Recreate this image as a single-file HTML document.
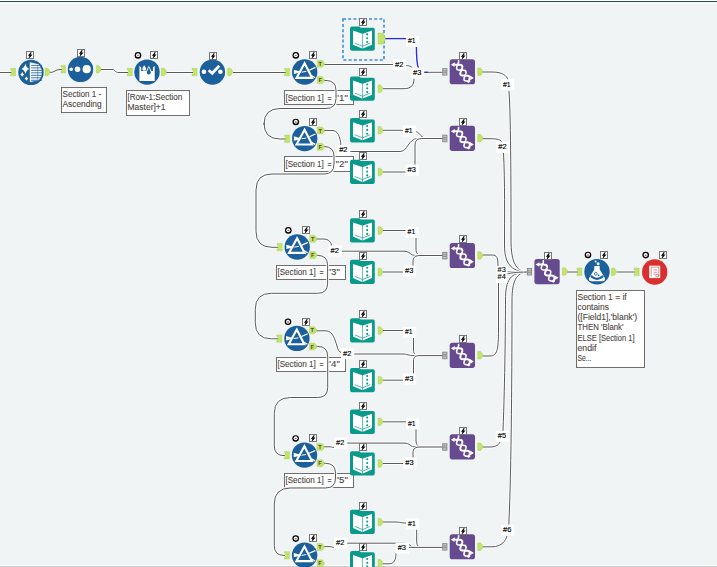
<!DOCTYPE html>
<html><head><meta charset="utf-8"><style>
html,body{margin:0;padding:0;background:#f0f4f5;overflow:hidden;}
svg{display:block;font-family:"Liberation Sans",sans-serif;}
</style></head><body>
<svg width="717" height="567" viewBox="0 0 717 567">
<rect x="0" y="0" width="717" height="567" fill="#f0f4f5"/>
<rect x="0" y="0" width="717" height="1" fill="#fbfcfc"/>
<rect x="0" y="1" width="717" height="1" fill="#2f4a46"/>
<rect x="0" y="2" width="717" height="1" fill="#fafcfc"/>
<rect x="0" y="565" width="717" height="1" fill="#fcfdfd"/>
<rect x="0" y="566" width="717" height="1" fill="#cbcdcd"/>
<path d="M0,72.5 H11.5" fill="none" stroke="#fff" stroke-width="3.0" stroke-opacity="0.85"/>
<path d="M0,72.5 H11.5" fill="none" stroke="#5a5a5a" stroke-width="1.0"/>
<path d="M50,72.5 C55,72.5 55,69.5 60,69.5 H62" fill="none" stroke="#fff" stroke-width="3.0" stroke-opacity="0.85"/>
<path d="M50,72.5 C55,72.5 55,69.5 60,69.5 H62" fill="none" stroke="#5a5a5a" stroke-width="1.0"/>
<path d="M100.8,69.5 H112 C116,69.5 114,72.5 119,72.5 H128" fill="none" stroke="#fff" stroke-width="3.0" stroke-opacity="0.85"/>
<path d="M100.8,69.5 H112 C116,69.5 114,72.5 119,72.5 H128" fill="none" stroke="#5a5a5a" stroke-width="1.0"/>
<path d="M166,72.5 H193" fill="none" stroke="#fff" stroke-width="3.0" stroke-opacity="0.85"/>
<path d="M166,72.5 H193" fill="none" stroke="#5a5a5a" stroke-width="1.0"/>
<path d="M233,72.5 H286" fill="none" stroke="#fff" stroke-width="3.0" stroke-opacity="0.85"/>
<path d="M233,72.5 H286" fill="none" stroke="#5a5a5a" stroke-width="1.0"/>
<path d="M384,38.6 H408" fill="none" stroke="#fff" stroke-width="3.4" stroke-opacity="0.85"/>
<path d="M384,38.6 H408" fill="none" stroke="#2b2bd8" stroke-width="1.4"/>
<path d="M416.4,46 C416.4,56 416.8,64 418.5,69" fill="none" stroke="#fff" stroke-width="3.4" stroke-opacity="0.85"/>
<path d="M416.4,46 C416.4,56 416.8,64 418.5,69" fill="none" stroke="#2b2bd8" stroke-width="1.4"/>
<path d="M324,64.5 H395" fill="none" stroke="#fff" stroke-width="3.0" stroke-opacity="0.85"/>
<path d="M324,64.5 H395" fill="none" stroke="#5a5a5a" stroke-width="1.0"/>
<path d="M405,65.5 C411,65.5 413,67 414,72" fill="none" stroke="#fff" stroke-width="3.0" stroke-opacity="0.85"/>
<path d="M405,65.5 C411,65.5 413,67 414,72" fill="none" stroke="#5a5a5a" stroke-width="1.0"/>
<path d="M383,88.7 H403 C411,88.7 414,86 414,78" fill="none" stroke="#fff" stroke-width="3.0" stroke-opacity="0.85"/>
<path d="M383,88.7 H403 C411,88.7 414,86 414,78" fill="none" stroke="#5a5a5a" stroke-width="1.0"/>
<path d="M423,72.3 H443" fill="none" stroke="#fff" stroke-width="3.0" stroke-opacity="0.85"/>
<path d="M423,72.3 H443" fill="none" stroke="#5a5a5a" stroke-width="1.0"/>
<path d="M423.5,72.3 H428" fill="none" stroke="#2b2bd8" stroke-width="1.2"/>
<path d="M383,130.3 H405" fill="none" stroke="#fff" stroke-width="3.0" stroke-opacity="0.85"/>
<path d="M383,130.3 H405" fill="none" stroke="#5a5a5a" stroke-width="1.0"/>
<path d="M416,131.5 C421,133 420,138.5 428,138.5 H443" fill="none" stroke="#fff" stroke-width="3.0" stroke-opacity="0.85"/>
<path d="M416,131.5 C421,133 420,138.5 428,138.5 H443" fill="none" stroke="#5a5a5a" stroke-width="1.0"/>
<path d="M324,130.5 H332 C338,130.5 340,136 341,146" fill="none" stroke="#fff" stroke-width="3.0" stroke-opacity="0.85"/>
<path d="M324,130.5 H332 C338,130.5 340,136 341,146" fill="none" stroke="#5a5a5a" stroke-width="1.0"/>
<path d="M347,151.5 H400 C408,151.5 408,138.5 418,138.5 H443" fill="none" stroke="#fff" stroke-width="3.0" stroke-opacity="0.85"/>
<path d="M347,151.5 H400 C408,151.5 408,138.5 418,138.5 H443" fill="none" stroke="#5a5a5a" stroke-width="1.0"/>
<path d="M383,172 H407" fill="none" stroke="#fff" stroke-width="3.0" stroke-opacity="0.85"/>
<path d="M383,172 H407" fill="none" stroke="#5a5a5a" stroke-width="1.0"/>
<path d="M415,165 V146 C415,140 417,138.5 424,138.5 H443" fill="none" stroke="#fff" stroke-width="3.0" stroke-opacity="0.85"/>
<path d="M415,165 V146 C415,140 417,138.5 424,138.5 H443" fill="none" stroke="#5a5a5a" stroke-width="1.0"/>
<path d="M383,230.5 H407" fill="none" stroke="#fff" stroke-width="3.0" stroke-opacity="0.85"/>
<path d="M383,230.5 H407" fill="none" stroke="#5a5a5a" stroke-width="1.0"/>
<path d="M416,238 V249 C416,254 418,255.5 424,255.5 H443" fill="none" stroke="#fff" stroke-width="3.0" stroke-opacity="0.85"/>
<path d="M416,238 V249 C416,254 418,255.5 424,255.5 H443" fill="none" stroke="#5a5a5a" stroke-width="1.0"/>
<path d="M316,239 H323 C329,239 331,242 332,247" fill="none" stroke="#fff" stroke-width="3.0" stroke-opacity="0.85"/>
<path d="M316,239 H323 C329,239 331,242 332,247" fill="none" stroke="#5a5a5a" stroke-width="1.0"/>
<path d="M341,251.2 H404 C410,251.2 410,255.5 416,255.5 H443" fill="none" stroke="#fff" stroke-width="3.0" stroke-opacity="0.85"/>
<path d="M341,251.2 H404 C410,251.2 410,255.5 416,255.5 H443" fill="none" stroke="#5a5a5a" stroke-width="1.0"/>
<path d="M383,272 H405" fill="none" stroke="#fff" stroke-width="3.0" stroke-opacity="0.85"/>
<path d="M383,272 H405" fill="none" stroke="#5a5a5a" stroke-width="1.0"/>
<path d="M413,266 V262 C413,257 415,255.5 421,255.5 H443" fill="none" stroke="#fff" stroke-width="3.0" stroke-opacity="0.85"/>
<path d="M413,266 V262 C413,257 415,255.5 421,255.5 H443" fill="none" stroke="#5a5a5a" stroke-width="1.0"/>
<path d="M383,330.5 H404" fill="none" stroke="#fff" stroke-width="3.0" stroke-opacity="0.85"/>
<path d="M383,330.5 H404" fill="none" stroke="#5a5a5a" stroke-width="1.0"/>
<path d="M413.5,338 V350 C413.5,354.5 415.5,355.6 421,355.6 H443" fill="none" stroke="#fff" stroke-width="3.0" stroke-opacity="0.85"/>
<path d="M413.5,338 V350 C413.5,354.5 415.5,355.6 421,355.6 H443" fill="none" stroke="#5a5a5a" stroke-width="1.0"/>
<path d="M316,330.8 H326 C333,330.8 335,340 337,346 C338,350 339,352 342,353" fill="none" stroke="#fff" stroke-width="3.0" stroke-opacity="0.85"/>
<path d="M316,330.8 H326 C333,330.8 335,340 337,346 C338,350 339,352 342,353" fill="none" stroke="#5a5a5a" stroke-width="1.0"/>
<path d="M354,354 H402 C408,354 408,355.6 414,355.6 H443" fill="none" stroke="#fff" stroke-width="3.0" stroke-opacity="0.85"/>
<path d="M354,354 H402 C408,354 408,355.6 414,355.6 H443" fill="none" stroke="#5a5a5a" stroke-width="1.0"/>
<path d="M383,380.2 H404" fill="none" stroke="#fff" stroke-width="3.0" stroke-opacity="0.85"/>
<path d="M383,380.2 H404" fill="none" stroke="#5a5a5a" stroke-width="1.0"/>
<path d="M413.5,373.5 V361 C413.5,356.6 415.5,355.6 421,355.6 H443" fill="none" stroke="#fff" stroke-width="3.0" stroke-opacity="0.85"/>
<path d="M413.5,373.5 V361 C413.5,356.6 415.5,355.6 421,355.6 H443" fill="none" stroke="#5a5a5a" stroke-width="1.0"/>
<path d="M383,421.8 H407" fill="none" stroke="#fff" stroke-width="3.0" stroke-opacity="0.85"/>
<path d="M383,421.8 H407" fill="none" stroke="#5a5a5a" stroke-width="1.0"/>
<path d="M416,427.5 V440 C416,445.5 418,447 424,447 H443" fill="none" stroke="#fff" stroke-width="3.0" stroke-opacity="0.85"/>
<path d="M416,427.5 V440 C416,445.5 418,447 424,447 H443" fill="none" stroke="#5a5a5a" stroke-width="1.0"/>
<path d="M324,446.8 H330 C332,446.8 332,447.5 334,447.5" fill="none" stroke="#fff" stroke-width="3.0" stroke-opacity="0.85"/>
<path d="M324,446.8 H330 C332,446.8 332,447.5 334,447.5" fill="none" stroke="#5a5a5a" stroke-width="1.0"/>
<path d="M347,443.1 H404 C410,443.1 410,447 416,447 H443" fill="none" stroke="#fff" stroke-width="3.0" stroke-opacity="0.85"/>
<path d="M347,443.1 H404 C410,443.1 410,447 416,447 H443" fill="none" stroke="#5a5a5a" stroke-width="1.0"/>
<path d="M383,463.5 H404" fill="none" stroke="#fff" stroke-width="3.0" stroke-opacity="0.85"/>
<path d="M383,463.5 H404" fill="none" stroke="#5a5a5a" stroke-width="1.0"/>
<path d="M413,458 V453 C413,448.5 415,447 421,447 H443" fill="none" stroke="#fff" stroke-width="3.0" stroke-opacity="0.85"/>
<path d="M413,458 V453 C413,448.5 415,447 421,447 H443" fill="none" stroke="#5a5a5a" stroke-width="1.0"/>
<path d="M383,522 H395 C401,522 401,523 406,523" fill="none" stroke="#fff" stroke-width="3.0" stroke-opacity="0.85"/>
<path d="M383,522 H395 C401,522 401,523 406,523" fill="none" stroke="#5a5a5a" stroke-width="1.0"/>
<path d="M416.7,529.5 V541 C416.7,546.5 418.5,547.4 424,547.4 H443" fill="none" stroke="#fff" stroke-width="3.0" stroke-opacity="0.85"/>
<path d="M416.7,529.5 V541 C416.7,546.5 418.5,547.4 424,547.4 H443" fill="none" stroke="#5a5a5a" stroke-width="1.0"/>
<path d="M324,546.6 H330 C332,546.6 332,547.5 334,547.5" fill="none" stroke="#fff" stroke-width="3.0" stroke-opacity="0.85"/>
<path d="M324,546.6 H330 C332,546.6 332,547.5 334,547.5" fill="none" stroke="#5a5a5a" stroke-width="1.0"/>
<path d="M347,543.2 H405 C410,543.2 410,547.4 415,547.4 H443" fill="none" stroke="#fff" stroke-width="3.0" stroke-opacity="0.85"/>
<path d="M347,543.2 H405 C410,543.2 410,547.4 415,547.4 H443" fill="none" stroke="#5a5a5a" stroke-width="1.0"/>
<path d="M383,563.8 H389 C394,563.8 396,560 396,553" fill="none" stroke="#fff" stroke-width="3.0" stroke-opacity="0.85"/>
<path d="M383,563.8 H389 C394,563.8 396,560 396,553" fill="none" stroke="#5a5a5a" stroke-width="1.0"/>
<path d="M407,547.4 H443" fill="none" stroke="#fff" stroke-width="3.0" stroke-opacity="0.85"/>
<path d="M407,547.4 H443" fill="none" stroke="#5a5a5a" stroke-width="1.0"/>
<path d="M482.5,72 H492 C503,72 507,76 508,80" fill="none" stroke="#fff" stroke-width="3.0" stroke-opacity="0.85"/>
<path d="M482.5,72 H492 C503,72 507,76 508,80" fill="none" stroke="#5a5a5a" stroke-width="1.0"/>
<path d="M509,91 C511,120 511,200 511,240 C511,262 516,272 528,272" fill="none" stroke="#fff" stroke-width="3.0" stroke-opacity="0.85"/>
<path d="M509,91 C511,120 511,200 511,240 C511,262 516,272 528,272" fill="none" stroke="#5a5a5a" stroke-width="1.0"/>
<path d="M482.5,138.7 H490 C498,138.7 501,140 502,142" fill="none" stroke="#fff" stroke-width="3.0" stroke-opacity="0.85"/>
<path d="M482.5,138.7 H490 C498,138.7 501,140 502,142" fill="none" stroke="#5a5a5a" stroke-width="1.0"/>
<path d="M503.5,153 C505,180 504.5,220 504.5,245 C504.5,262 510,272 528,272" fill="none" stroke="#fff" stroke-width="3.0" stroke-opacity="0.85"/>
<path d="M503.5,153 C505,180 504.5,220 504.5,245 C504.5,262 510,272 528,272" fill="none" stroke="#5a5a5a" stroke-width="1.0"/>
<path d="M482.5,255 H492 C497,255 498,258 498,266" fill="none" stroke="#fff" stroke-width="3.0" stroke-opacity="0.85"/>
<path d="M482.5,255 H492 C497,255 498,258 498,266" fill="none" stroke="#5a5a5a" stroke-width="1.0"/>
<path d="M482.5,356 H490 C497,356 498.5,350 498.5,330 V284" fill="none" stroke="#fff" stroke-width="3.0" stroke-opacity="0.85"/>
<path d="M482.5,356 H490 C497,356 498.5,350 498.5,330 V284" fill="none" stroke="#5a5a5a" stroke-width="1.0"/>
<path d="M507,272 H528" fill="none" stroke="#fff" stroke-width="3.0" stroke-opacity="0.85"/>
<path d="M507,272 H528" fill="none" stroke="#5a5a5a" stroke-width="1.0"/>
<path d="M482.5,447 H490 C497,447 499,444 500,442" fill="none" stroke="#fff" stroke-width="3.0" stroke-opacity="0.85"/>
<path d="M482.5,447 H490 C497,447 499,444 500,442" fill="none" stroke="#5a5a5a" stroke-width="1.0"/>
<path d="M503,431 C505,380 505.5,320 505.5,300 C505.5,280 510,272 528,272" fill="none" stroke="#fff" stroke-width="3.0" stroke-opacity="0.85"/>
<path d="M503,431 C505,380 505.5,320 505.5,300 C505.5,280 510,272 528,272" fill="none" stroke="#5a5a5a" stroke-width="1.0"/>
<path d="M482.5,546.8 H492 C502,546.8 506,540 507,536" fill="none" stroke="#fff" stroke-width="3.0" stroke-opacity="0.85"/>
<path d="M482.5,546.8 H492 C502,546.8 506,540 507,536" fill="none" stroke="#5a5a5a" stroke-width="1.0"/>
<path d="M508.8,524.8 C511.5,470 512,360 512,300 C512,282 516,272 528,272" fill="none" stroke="#fff" stroke-width="3.0" stroke-opacity="0.85"/>
<path d="M508.8,524.8 C511.5,470 512,360 512,300 C512,282 516,272 528,272" fill="none" stroke="#5a5a5a" stroke-width="1.0"/>
<path d="M498.5,284 C498.5,276 504,272 528,272" fill="none" stroke="#fff" stroke-width="3.0" stroke-opacity="0.85"/>
<path d="M498.5,284 C498.5,276 504,272 528,272" fill="none" stroke="#5a5a5a" stroke-width="1.0"/>
<path d="M566.5,272 H578" fill="none" stroke="#fff" stroke-width="3.0" stroke-opacity="0.85"/>
<path d="M566.5,272 H578" fill="none" stroke="#5a5a5a" stroke-width="1.0"/>
<path d="M616.5,272 H635" fill="none" stroke="#fff" stroke-width="3.0" stroke-opacity="0.85"/>
<path d="M616.5,272 H635" fill="none" stroke="#5a5a5a" stroke-width="1.0"/>
<circle cx="31" cy="72.4" r="12.7" fill="#1b5f9b"/>
<path d="M25.4,63.800000000000004 Q26.258,67.778 29.299999999999997,68.9 Q26.258,70.022 25.4,74.0 Q24.541999999999998,70.022 21.5,68.9 Q24.541999999999998,67.778 25.4,63.800000000000004 Z M22.2,72.1 Q22.83,73.78 24.3,74.5 Q22.83,75.22 22.2,76.9 Q21.57,75.22 20.099999999999998,74.5 Q21.57,73.78 22.2,72.1 Z M26.4,76.2 Q26.97,77.81 28.299999999999997,78.5 Q26.97,79.19 26.4,80.8 Q25.83,79.19 24.5,78.5 Q25.83,77.81 26.4,76.2 Z" fill="#fff"/>
<path d="M29.8,62.2 L38.5,64.2 Q41.8,67.4 41.8,72.4 Q41.8,77.4 38.5,80.60000000000001 L29.8,82.0 Z" fill="#fff"/>
<path d="M31.1,65.4 H42" stroke="#1b5f9b" stroke-width="0.85"/>
<path d="M31.1,67.88000000000001 H42" stroke="#1b5f9b" stroke-width="0.85"/>
<path d="M31.1,70.36 H42" stroke="#1b5f9b" stroke-width="0.85"/>
<path d="M31.1,72.84 H42" stroke="#1b5f9b" stroke-width="0.85"/>
<path d="M31.1,75.32000000000001 H42" stroke="#1b5f9b" stroke-width="0.85"/>
<path d="M31.1,77.80000000000001 H42" stroke="#1b5f9b" stroke-width="0.85"/>
<path d="M31.1,80.28 H42" stroke="#1b5f9b" stroke-width="0.85"/>
<path d="M37.7,64.9 V79.9" stroke="#1b5f9b" stroke-width="0.45"/>
<rect x="26.5" y="51.5" width="7" height="7" fill="#fff" stroke="#767676" stroke-width="1"/>
<path d="M31.3,52.4 L29.2,55.0 L31.2,55.0 L29.1,57.7" fill="none" stroke="#000" stroke-width="1.25" stroke-linejoin="miter" stroke-miterlimit="3"/>
<path d="M10.5,68.3 h5.0 v7.5 h-5.0 v-1.6 l1.4,-1.2 v-2.1 l-1.4,-1.2 Z" fill="#c3e46a" stroke="#a6c94e" stroke-width="0.4"/>
<path d="M45,68.3 h3.0 l2,2.75 v2 l-2,2.75 h-3.0 Z" fill="#c3e46a" stroke="#a6c94e" stroke-width="0.4"/>
<circle cx="80.5" cy="69.4" r="12.7" fill="#1b5f9b"/>
<circle cx="71.2" cy="69.2" r="1.8" fill="#fff"/>
<circle cx="77.5" cy="69.2" r="2.8" fill="#fff"/>
<circle cx="86.7" cy="69.2" r="4.1" fill="#fff"/>
<rect x="77.5" y="49.5" width="7" height="7" fill="#fff" stroke="#767676" stroke-width="1"/>
<path d="M82.3,50.4 L80.2,53.0 L82.2,53.0 L80.1,55.7" fill="none" stroke="#000" stroke-width="1.25" stroke-linejoin="miter" stroke-miterlimit="3"/>
<path d="M61,65.5 h4.4 v7.5 h-4.4 v-1.6 l1.4,-1.2 v-2.1 l-1.4,-1.2 Z" fill="#c3e46a" stroke="#a6c94e" stroke-width="0.4"/>
<path d="M96.4,65.5 h2.4000000000000004 l2,2.75 v2 l-2,2.75 h-2.4000000000000004 Z" fill="#c3e46a" stroke="#a6c94e" stroke-width="0.4"/>
<circle cx="147" cy="72.1" r="12.7" fill="#1b5f9b"/>
<path d="M139.4,66.0 L141.20000000000002,67.3 L141.20000000000002,71.0 L152.89999999999998,71.0 L152.89999999999998,67.3 L154.7,66.0 L154.7,81.0 L139.4,81.0 Z" fill="#fff"/>
<path d="M144.20,65.20 L145.80,67.67 A1.9,1.9 0 1 1 142.60,67.67 Z" fill="#fff"/>
<path d="M148.80,65.70 L151.48,71.06 A3.0,3.0 0 1 1 146.12,71.06 Z" fill="#fff"/>
<path d="M148.80,67.20 L150.65,71.75 A2.0,2.0 0 1 1 146.95,71.75 Z" fill="#1b5f9b"/>
<circle cx="138" cy="55.4" r="3.3" fill="#000"/>
<circle cx="138" cy="55.25" r="2.0" fill="#fff"/>
<path d="M136.7,56.0 A1.35,1.35 0 0 1 139.3,56.0 Z" fill="#6fa4e6"/>
<path d="M138.1,54.3 L139.3,56.0 H138.1 Z" fill="#f0b050"/>
<circle cx="138" cy="55.5" r="0.55" fill="#b02020"/>
<rect x="150.5" y="51.5" width="7" height="7" fill="#fff" stroke="#767676" stroke-width="1"/>
<path d="M155.3,52.4 L153.2,55.0 L155.2,55.0 L153.1,57.7" fill="none" stroke="#000" stroke-width="1.25" stroke-linejoin="miter" stroke-miterlimit="3"/>
<path d="M127.2,68.3 h5.0 v7.5 h-5.0 v-1.6 l1.4,-1.2 v-2.1 l-1.4,-1.2 Z" fill="#c3e46a" stroke="#a6c94e" stroke-width="0.4"/>
<path d="M161.4,68.2 h3.0 l2,2.75 v2 l-2,2.75 h-3.0 Z" fill="#c3e46a" stroke="#a6c94e" stroke-width="0.4"/>
<circle cx="212.4" cy="72.1" r="12.7" fill="#1b5f9b"/>
<circle cx="203.9" cy="71.69999999999999" r="2.3" fill="#fff"/>
<circle cx="220.4" cy="71.69999999999999" r="2.3" fill="#fff"/>
<path d="M208.70000000000002,70.3 L212.20000000000002,73.3 L219.20000000000002,65.89999999999999" fill="none" stroke="#fff" stroke-width="2.8" stroke-linejoin="miter"/>
<rect x="209.5" y="52.5" width="7" height="7" fill="#fff" stroke="#767676" stroke-width="1"/>
<path d="M214.3,53.4 L212.2,56.0 L214.2,56.0 L212.1,58.7" fill="none" stroke="#000" stroke-width="1.25" stroke-linejoin="miter" stroke-miterlimit="3"/>
<path d="M192,68.3 h5.0 v7.5 h-5.0 v-1.6 l1.4,-1.2 v-2.1 l-1.4,-1.2 Z" fill="#c3e46a" stroke="#a6c94e" stroke-width="0.4"/>
<path d="M227.6,68.2 h3.0 l2,2.75 v2 l-2,2.75 h-3.0 Z" fill="#c3e46a" stroke="#a6c94e" stroke-width="0.4"/>
<rect x="61.5" y="87.5" width="45" height="25" fill="#fff" stroke="#6f6f6f" stroke-width="1"/>
<text x="62.5" y="97.0" font-size="8.3" fill="#4e4843" stroke="#4e4843" stroke-width="0.12" textLength="38.8" lengthAdjust="spacingAndGlyphs">Section 1 -</text>
<text x="62.5" y="106.8" font-size="8.3" fill="#4e4843" stroke="#4e4843" stroke-width="0.12" textLength="39.1" lengthAdjust="spacingAndGlyphs">Ascending</text>
<rect x="126.5" y="90.5" width="63" height="25" fill="#fff" stroke="#6f6f6f" stroke-width="1"/>
<text x="127.5" y="100.1" font-size="8.3" fill="#4e4843" stroke="#4e4843" stroke-width="0.12" textLength="54.8" lengthAdjust="spacingAndGlyphs">[Row-1:Section</text>
<text x="127.5" y="109.89999999999999" font-size="8.3" fill="#4e4843" stroke="#4e4843" stroke-width="0.12" textLength="38" lengthAdjust="spacingAndGlyphs">Master]+1</text>
<rect x="284.5" y="90.5" width="69" height="14" fill="#fff" stroke="#6f6f6f" stroke-width="1"/>
<text x="285.4" y="100.5" font-size="8.3" fill="#4e4843" stroke="#4e4843" stroke-width="0.12" textLength="38.5" lengthAdjust="spacingAndGlyphs">[Section 1]</text>
<text x="327.6" y="100.5" font-size="8.3" fill="#4e4843" stroke="#4e4843" stroke-width="0.12" textLength="4.1" lengthAdjust="spacingAndGlyphs">=</text>
<text x="335.6" y="100.5" font-size="8.3" fill="#4e4843" stroke="#4e4843" stroke-width="0.12" textLength="12.3" lengthAdjust="spacingAndGlyphs">&quot;1&quot;</text>
<rect x="284.5" y="156.5" width="69" height="15" fill="#fff" stroke="#6f6f6f" stroke-width="1"/>
<text x="285.4" y="166.7" font-size="8.3" fill="#4e4843" stroke="#4e4843" stroke-width="0.12" textLength="38.5" lengthAdjust="spacingAndGlyphs">[Section 1]</text>
<text x="327.6" y="166.7" font-size="8.3" fill="#4e4843" stroke="#4e4843" stroke-width="0.12" textLength="4.1" lengthAdjust="spacingAndGlyphs">=</text>
<text x="335.6" y="166.7" font-size="8.3" fill="#4e4843" stroke="#4e4843" stroke-width="0.12" textLength="12.3" lengthAdjust="spacingAndGlyphs">&quot;2&quot;</text>
<rect x="276.5" y="265.5" width="69" height="14" fill="#fff" stroke="#6f6f6f" stroke-width="1"/>
<text x="277.4" y="275.2" font-size="8.3" fill="#4e4843" stroke="#4e4843" stroke-width="0.12" textLength="38.5" lengthAdjust="spacingAndGlyphs">[Section 1]</text>
<text x="319.6" y="275.2" font-size="8.3" fill="#4e4843" stroke="#4e4843" stroke-width="0.12" textLength="4.1" lengthAdjust="spacingAndGlyphs">=</text>
<text x="327.6" y="275.2" font-size="8.3" fill="#4e4843" stroke="#4e4843" stroke-width="0.12" textLength="12.3" lengthAdjust="spacingAndGlyphs">&quot;3&quot;</text>
<rect x="276.5" y="357.5" width="69" height="14" fill="#fff" stroke="#6f6f6f" stroke-width="1"/>
<text x="277.4" y="367.4" font-size="8.3" fill="#4e4843" stroke="#4e4843" stroke-width="0.12" textLength="38.5" lengthAdjust="spacingAndGlyphs">[Section 1]</text>
<text x="319.6" y="367.4" font-size="8.3" fill="#4e4843" stroke="#4e4843" stroke-width="0.12" textLength="4.1" lengthAdjust="spacingAndGlyphs">=</text>
<text x="327.6" y="367.4" font-size="8.3" fill="#4e4843" stroke="#4e4843" stroke-width="0.12" textLength="12.3" lengthAdjust="spacingAndGlyphs">&quot;4&quot;</text>
<rect x="284.5" y="473.5" width="69" height="14" fill="#fff" stroke="#6f6f6f" stroke-width="1"/>
<text x="285.4" y="483.2" font-size="8.3" fill="#4e4843" stroke="#4e4843" stroke-width="0.12" textLength="38.5" lengthAdjust="spacingAndGlyphs">[Section 1]</text>
<text x="327.6" y="483.2" font-size="8.3" fill="#4e4843" stroke="#4e4843" stroke-width="0.12" textLength="4.1" lengthAdjust="spacingAndGlyphs">=</text>
<text x="335.6" y="483.2" font-size="8.3" fill="#4e4843" stroke="#4e4843" stroke-width="0.12" textLength="12.3" lengthAdjust="spacingAndGlyphs">&quot;5&quot;</text>
<path d="M324,80.5 H326 Q336,80.5 336,90.5 V98.5 Q336,108.5 326,108.5 H280 Q264,108.5 264,124.5 V123 Q264,139 280,139 H286" fill="none" stroke="#fff" stroke-width="3.0" stroke-opacity="0.85"/>
<path d="M324,80.5 H326 Q336,80.5 336,90.5 V98.5 Q336,108.5 326,108.5 H280 Q264,108.5 264,124.5 V123 Q264,139 280,139 H286" fill="none" stroke="#5a5a5a" stroke-width="1.0"/>
<path d="M324,146.5 H324 Q334,146.5 334,156.5 V164 Q334,174 324,174 H272 Q256,174 256,190 V231.3 Q256,247.3 272,247.3 H278" fill="none" stroke="#fff" stroke-width="3.0" stroke-opacity="0.85"/>
<path d="M324,146.5 H324 Q334,146.5 334,156.5 V164 Q334,174 324,174 H272 Q256,174 256,190 V231.3 Q256,247.3 272,247.3 H278" fill="none" stroke="#5a5a5a" stroke-width="1.0"/>
<path d="M316,255.4 H317.6 Q327.6,255.4 327.6,265.4 V283.3 Q327.6,293.3 317.6,293.3 H271.3 Q255.3,293.3 255.3,309.3 V322.8 Q255.3,338.8 271.3,338.8 H278" fill="none" stroke="#fff" stroke-width="3.0" stroke-opacity="0.85"/>
<path d="M316,255.4 H317.6 Q327.6,255.4 327.6,265.4 V283.3 Q327.6,293.3 317.6,293.3 H271.3 Q255.3,293.3 255.3,309.3 V322.8 Q255.3,338.8 271.3,338.8 H278" fill="none" stroke="#5a5a5a" stroke-width="1.0"/>
<path d="M316,346.4 H317.7 Q327.7,346.4 327.7,356.4 V387.5 Q327.7,397.5 317.7,397.5 H290.3 Q274.3,397.5 274.3,413.5 V445.90000000000003 Q274.3,455.6 284.0,455.6 H285" fill="none" stroke="#fff" stroke-width="3.0" stroke-opacity="0.85"/>
<path d="M316,346.4 H317.7 Q327.7,346.4 327.7,356.4 V387.5 Q327.7,397.5 317.7,397.5 H290.3 Q274.3,397.5 274.3,413.5 V445.90000000000003 Q274.3,455.6 284.0,455.6 H285" fill="none" stroke="#5a5a5a" stroke-width="1.0"/>
<path d="M324,463.3 H325.5 Q335.5,463.3 335.5,473.3 V478 Q335.5,488 325.5,488 H290.3 Q274.3,488 274.3,504 V545.7 Q274.3,555.4 284.0,555.4 H285" fill="none" stroke="#fff" stroke-width="3.0" stroke-opacity="0.85"/>
<path d="M324,463.3 H325.5 Q335.5,463.3 335.5,473.3 V478 Q335.5,488 325.5,488 H290.3 Q274.3,488 274.3,504 V545.7 Q274.3,555.4 284.0,555.4 H285" fill="none" stroke="#5a5a5a" stroke-width="1.0"/>
<circle cx="304.7" cy="72" r="12.7" fill="#1b5f9b"/>
<path d="M304.59999999999997,63.2 L312.09999999999997,77.9 L296.5,77.9 Z" fill="none" stroke="#fff" stroke-width="2.1" stroke-linejoin="miter"/>
<path d="M293.9,69.7 L302.09999999999997,72.1 L293.9,74.1 Z" fill="#fff"/>
<path d="M301.9,72.1 L306.3,71.4" stroke="#fff" stroke-width="1.0"/>
<path d="M309.3,70.1 L315.5,67.4 M311.7,75.8 L315.3,77.8" stroke="#fff" stroke-width="1.25"/>
<circle cx="295.8" cy="55.4" r="3.3" fill="#000"/>
<circle cx="295.8" cy="55.25" r="2.0" fill="#fff"/>
<path d="M294.5,56.0 A1.35,1.35 0 0 1 297.1,56.0 Z" fill="#6fa4e6"/>
<path d="M295.90000000000003,54.3 L297.1,56.0 H295.90000000000003 Z" fill="#f0b050"/>
<circle cx="295.8" cy="55.5" r="0.55" fill="#b02020"/>
<rect x="309.5" y="51.5" width="7" height="7" fill="#fff" stroke="#767676" stroke-width="1"/>
<path d="M314.3,52.4 L312.2,55.0 L314.2,55.0 L312.1,57.7" fill="none" stroke="#000" stroke-width="1.25" stroke-linejoin="miter" stroke-miterlimit="3"/>
<path d="M284.5,68.5 h5.2 v7.3 h-5.2 v-1.6 l1.4,-1.2 v-2.1 l-1.4,-1.2 Z" fill="#c3e46a" stroke="#a6c94e" stroke-width="0.4"/>
<path d="M317.3,60.3 h5 l2,2.5 v2 l-2,2.5 h-5 Z" fill="#c3e46a" stroke="#a6c94e" stroke-width="0.4"/>
<text x="320.1" y="65.89999999999999" font-size="5.6" font-weight="bold" fill="#4e4a3a" text-anchor="middle" font-family="Liberation Sans, sans-serif">T</text>
<path d="M317.3,76.6 h5 l2,2.5 v2 l-2,2.5 h-5 Z" fill="#c3e46a" stroke="#a6c94e" stroke-width="0.4"/>
<text x="320.1" y="82.19999999999999" font-size="5.6" font-weight="bold" fill="#4e4a3a" text-anchor="middle" font-family="Liberation Sans, sans-serif">F</text>
<circle cx="304.7" cy="138.6" r="12.7" fill="#1b5f9b"/>
<path d="M304.59999999999997,129.79999999999998 L312.09999999999997,144.5 L296.5,144.5 Z" fill="none" stroke="#fff" stroke-width="2.1" stroke-linejoin="miter"/>
<path d="M293.9,136.29999999999998 L302.09999999999997,138.7 L293.9,140.7 Z" fill="#fff"/>
<path d="M301.9,138.7 L306.3,138.0" stroke="#fff" stroke-width="1.0"/>
<path d="M309.3,136.7 L315.5,134.0 M311.7,142.4 L315.3,144.4" stroke="#fff" stroke-width="1.25"/>
<circle cx="295.8" cy="122.0" r="3.3" fill="#000"/>
<circle cx="295.8" cy="121.85" r="2.0" fill="#fff"/>
<path d="M294.5,122.6 A1.35,1.35 0 0 1 297.1,122.6 Z" fill="#6fa4e6"/>
<path d="M295.90000000000003,120.9 L297.1,122.6 H295.90000000000003 Z" fill="#f0b050"/>
<circle cx="295.8" cy="122.1" r="0.55" fill="#b02020"/>
<rect x="309.5" y="118.5" width="7" height="7" fill="#fff" stroke="#767676" stroke-width="1"/>
<path d="M314.3,119.4 L312.2,122.0 L314.2,122.0 L312.1,124.7" fill="none" stroke="#000" stroke-width="1.25" stroke-linejoin="miter" stroke-miterlimit="3"/>
<path d="M284.5,135.1 h5.2 v7.3 h-5.2 v-1.6 l1.4,-1.2 v-2.1 l-1.4,-1.2 Z" fill="#c3e46a" stroke="#a6c94e" stroke-width="0.4"/>
<path d="M317.3,126.89999999999999 h5 l2,2.5 v2 l-2,2.5 h-5 Z" fill="#c3e46a" stroke="#a6c94e" stroke-width="0.4"/>
<text x="320.1" y="132.49999999999997" font-size="5.6" font-weight="bold" fill="#4e4a3a" text-anchor="middle" font-family="Liberation Sans, sans-serif">T</text>
<path d="M317.3,143.2 h5 l2,2.5 v2 l-2,2.5 h-5 Z" fill="#c3e46a" stroke="#a6c94e" stroke-width="0.4"/>
<text x="320.1" y="148.79999999999998" font-size="5.6" font-weight="bold" fill="#4e4a3a" text-anchor="middle" font-family="Liberation Sans, sans-serif">F</text>
<circle cx="297.2" cy="247" r="12.7" fill="#1b5f9b"/>
<path d="M297.09999999999997,238.2 L304.59999999999997,252.9 L289.0,252.9 Z" fill="none" stroke="#fff" stroke-width="2.1" stroke-linejoin="miter"/>
<path d="M286.4,244.7 L294.59999999999997,247.1 L286.4,249.1 Z" fill="#fff"/>
<path d="M294.4,247.1 L298.8,246.4" stroke="#fff" stroke-width="1.0"/>
<path d="M301.8,245.1 L308.0,242.4 M304.2,250.8 L307.8,252.8" stroke="#fff" stroke-width="1.25"/>
<circle cx="288.3" cy="230.4" r="3.3" fill="#000"/>
<circle cx="288.3" cy="230.25" r="2.0" fill="#fff"/>
<path d="M287.0,231.0 A1.35,1.35 0 0 1 289.6,231.0 Z" fill="#6fa4e6"/>
<path d="M288.40000000000003,229.3 L289.6,231.0 H288.40000000000003 Z" fill="#f0b050"/>
<circle cx="288.3" cy="230.5" r="0.55" fill="#b02020"/>
<rect x="302.5" y="226.5" width="7" height="7" fill="#fff" stroke="#767676" stroke-width="1"/>
<path d="M307.3,227.4 L305.2,230.0 L307.2,230.0 L305.1,232.7" fill="none" stroke="#000" stroke-width="1.25" stroke-linejoin="miter" stroke-miterlimit="3"/>
<path d="M277.0,243.5 h5.2 v7.3 h-5.2 v-1.6 l1.4,-1.2 v-2.1 l-1.4,-1.2 Z" fill="#c3e46a" stroke="#a6c94e" stroke-width="0.4"/>
<path d="M309.8,235.3 h5 l2,2.5 v2 l-2,2.5 h-5 Z" fill="#c3e46a" stroke="#a6c94e" stroke-width="0.4"/>
<text x="312.6" y="240.9" font-size="5.6" font-weight="bold" fill="#4e4a3a" text-anchor="middle" font-family="Liberation Sans, sans-serif">T</text>
<path d="M309.8,251.6 h5 l2,2.5 v2 l-2,2.5 h-5 Z" fill="#c3e46a" stroke="#a6c94e" stroke-width="0.4"/>
<text x="312.6" y="257.20000000000005" font-size="5.6" font-weight="bold" fill="#4e4a3a" text-anchor="middle" font-family="Liberation Sans, sans-serif">F</text>
<circle cx="296.9" cy="338.4" r="12.7" fill="#1b5f9b"/>
<path d="M296.79999999999995,329.59999999999997 L304.29999999999995,344.29999999999995 L288.7,344.29999999999995 Z" fill="none" stroke="#fff" stroke-width="2.1" stroke-linejoin="miter"/>
<path d="M286.09999999999997,336.09999999999997 L294.29999999999995,338.5 L286.09999999999997,340.5 Z" fill="#fff"/>
<path d="M294.09999999999997,338.5 L298.5,337.79999999999995" stroke="#fff" stroke-width="1.0"/>
<path d="M301.5,336.5 L307.7,333.79999999999995 M303.9,342.2 L307.5,344.2" stroke="#fff" stroke-width="1.25"/>
<circle cx="288.0" cy="321.79999999999995" r="3.3" fill="#000"/>
<circle cx="288.0" cy="321.65" r="2.0" fill="#fff"/>
<path d="M286.7,322.4 A1.35,1.35 0 0 1 289.3,322.4 Z" fill="#6fa4e6"/>
<path d="M288.1,320.69999999999993 L289.3,322.4 H288.1 Z" fill="#f0b050"/>
<circle cx="288.0" cy="321.9" r="0.55" fill="#b02020"/>
<rect x="302.5" y="318.5" width="7" height="7" fill="#fff" stroke="#767676" stroke-width="1"/>
<path d="M307.3,319.4 L305.2,322.0 L307.2,322.0 L305.1,324.7" fill="none" stroke="#000" stroke-width="1.25" stroke-linejoin="miter" stroke-miterlimit="3"/>
<path d="M276.7,334.9 h5.2 v7.3 h-5.2 v-1.6 l1.4,-1.2 v-2.1 l-1.4,-1.2 Z" fill="#c3e46a" stroke="#a6c94e" stroke-width="0.4"/>
<path d="M309.5,326.7 h5 l2,2.5 v2 l-2,2.5 h-5 Z" fill="#c3e46a" stroke="#a6c94e" stroke-width="0.4"/>
<text x="312.3" y="332.3" font-size="5.6" font-weight="bold" fill="#4e4a3a" text-anchor="middle" font-family="Liberation Sans, sans-serif">T</text>
<path d="M309.5,343.0 h5 l2,2.5 v2 l-2,2.5 h-5 Z" fill="#c3e46a" stroke="#a6c94e" stroke-width="0.4"/>
<text x="312.3" y="348.6" font-size="5.6" font-weight="bold" fill="#4e4a3a" text-anchor="middle" font-family="Liberation Sans, sans-serif">F</text>
<circle cx="304.5" cy="455.1" r="12.7" fill="#1b5f9b"/>
<path d="M304.4,446.3 L311.9,461.0 L296.3,461.0 Z" fill="none" stroke="#fff" stroke-width="2.1" stroke-linejoin="miter"/>
<path d="M293.7,452.8 L301.9,455.20000000000005 L293.7,457.20000000000005 Z" fill="#fff"/>
<path d="M301.7,455.20000000000005 L306.1,454.5" stroke="#fff" stroke-width="1.0"/>
<path d="M309.1,453.20000000000005 L315.3,450.5 M311.5,458.90000000000003 L315.1,460.90000000000003" stroke="#fff" stroke-width="1.25"/>
<circle cx="295.6" cy="438.5" r="3.3" fill="#000"/>
<circle cx="295.6" cy="438.35" r="2.0" fill="#fff"/>
<path d="M294.3,439.1 A1.35,1.35 0 0 1 296.90000000000003,439.1 Z" fill="#6fa4e6"/>
<path d="M295.70000000000005,437.4 L296.90000000000003,439.1 H295.70000000000005 Z" fill="#f0b050"/>
<circle cx="295.6" cy="438.6" r="0.55" fill="#b02020"/>
<rect x="309.5" y="434.5" width="7" height="7" fill="#fff" stroke="#767676" stroke-width="1"/>
<path d="M314.3,435.4 L312.2,438.0 L314.2,438.0 L312.1,440.7" fill="none" stroke="#000" stroke-width="1.25" stroke-linejoin="miter" stroke-miterlimit="3"/>
<path d="M284.3,451.6 h5.2 v7.3 h-5.2 v-1.6 l1.4,-1.2 v-2.1 l-1.4,-1.2 Z" fill="#c3e46a" stroke="#a6c94e" stroke-width="0.4"/>
<path d="M317.1,443.40000000000003 h5 l2,2.5 v2 l-2,2.5 h-5 Z" fill="#c3e46a" stroke="#a6c94e" stroke-width="0.4"/>
<text x="319.90000000000003" y="449.00000000000006" font-size="5.6" font-weight="bold" fill="#4e4a3a" text-anchor="middle" font-family="Liberation Sans, sans-serif">T</text>
<path d="M317.1,459.70000000000005 h5 l2,2.5 v2 l-2,2.5 h-5 Z" fill="#c3e46a" stroke="#a6c94e" stroke-width="0.4"/>
<text x="319.90000000000003" y="465.30000000000007" font-size="5.6" font-weight="bold" fill="#4e4a3a" text-anchor="middle" font-family="Liberation Sans, sans-serif">F</text>
<circle cx="304.6" cy="555.2" r="12.7" fill="#1b5f9b"/>
<path d="M304.5,546.4000000000001 L312.0,561.1 L296.40000000000003,561.1 Z" fill="none" stroke="#fff" stroke-width="2.1" stroke-linejoin="miter"/>
<path d="M293.8,552.9000000000001 L302.0,555.3000000000001 L293.8,557.3000000000001 Z" fill="#fff"/>
<path d="M301.8,555.3000000000001 L306.20000000000005,554.6" stroke="#fff" stroke-width="1.0"/>
<path d="M309.20000000000005,553.3000000000001 L315.40000000000003,550.6 M311.6,559.0 L315.20000000000005,561.0" stroke="#fff" stroke-width="1.25"/>
<circle cx="295.70000000000005" cy="538.6" r="3.3" fill="#000"/>
<circle cx="295.70000000000005" cy="538.45" r="2.0" fill="#fff"/>
<path d="M294.40000000000003,539.2 A1.35,1.35 0 0 1 297.00000000000006,539.2 Z" fill="#6fa4e6"/>
<path d="M295.80000000000007,537.5 L297.00000000000006,539.2 H295.80000000000007 Z" fill="#f0b050"/>
<circle cx="295.70000000000005" cy="538.7" r="0.55" fill="#b02020"/>
<rect x="309.5" y="534.5" width="7" height="7" fill="#fff" stroke="#767676" stroke-width="1"/>
<path d="M314.3,535.4 L312.2,538.0 L314.2,538.0 L312.1,540.7" fill="none" stroke="#000" stroke-width="1.25" stroke-linejoin="miter" stroke-miterlimit="3"/>
<path d="M284.40000000000003,551.7 h5.2 v7.3 h-5.2 v-1.6 l1.4,-1.2 v-2.1 l-1.4,-1.2 Z" fill="#c3e46a" stroke="#a6c94e" stroke-width="0.4"/>
<path d="M317.20000000000005,543.5 h5 l2,2.5 v2 l-2,2.5 h-5 Z" fill="#c3e46a" stroke="#a6c94e" stroke-width="0.4"/>
<text x="320.00000000000006" y="549.1" font-size="5.6" font-weight="bold" fill="#4e4a3a" text-anchor="middle" font-family="Liberation Sans, sans-serif">T</text>
<path d="M317.20000000000005,559.8000000000001 h5 l2,2.5 v2 l-2,2.5 h-5 Z" fill="#c3e46a" stroke="#a6c94e" stroke-width="0.4"/>
<text x="320.00000000000006" y="565.4000000000001" font-size="5.6" font-weight="bold" fill="#4e4a3a" text-anchor="middle" font-family="Liberation Sans, sans-serif">F</text>
<rect x="343" y="19.0" width="41" height="41" fill="none" stroke="#3d8ee0" stroke-width="1.6" stroke-dasharray="3,2.2"/>
<path d="M350,28.400000000000002 Q350,26.400000000000002 352,26.400000000000002 L359.5,26.400000000000002 L360.8,27.700000000000003 L373,27.700000000000003 Q374.8,27.700000000000003 374.8,29.700000000000003 L374.8,48.7 Q374.8,50.7 372.8,50.7 L352,50.7 Q350,50.7 350,48.7 Z" fill="#0a9a8b"/>
<path d="M353,30.5 L362.2,33.7 L362.2,48.5 L353,44.7 Z M362.8,33.7 L372,30.5 L372,44.7 L362.8,48.5 Z" fill="#fff"/>
<path d="M354.8,43.0 L362.5,46.2 L370.2,43.0" stroke="#0a9a8b" stroke-width="0.7" fill="none"/>
<circle cx="367.2" cy="34.400000000000006" r="1.05" fill="#0a9a8b"/>
<circle cx="367.2" cy="38.2" r="1.05" fill="#0a9a8b"/>
<circle cx="367.2" cy="42.00000000000001" r="1.05" fill="#0a9a8b"/>
<rect x="359.5" y="18.5" width="7" height="7" fill="#fff" stroke="#767676" stroke-width="1"/>
<path d="M364.3,19.4 L362.2,22.0 L364.2,22.0 L362.1,24.7" fill="none" stroke="#000" stroke-width="1.25" stroke-linejoin="miter" stroke-miterlimit="3"/>
<path d="M378,33.1 h5.2 l2,4.5 v2 l-2,4.5 h-5.2 Z" fill="#c3e46a" stroke="#a6c94e" stroke-width="0.4"/>
<path d="M350,78.5 Q350,76.5 352,76.5 L359.5,76.5 L360.8,77.8 L373,77.8 Q374.8,77.8 374.8,79.8 L374.8,98.8 Q374.8,100.8 372.8,100.8 L352,100.8 Q350,100.8 350,98.8 Z" fill="#0a9a8b"/>
<path d="M353,80.6 L362.2,83.8 L362.2,98.6 L353,94.8 Z M362.8,83.8 L372,80.6 L372,94.8 L362.8,98.6 Z" fill="#fff"/>
<path d="M354.8,93.1 L362.5,96.3 L370.2,93.1" stroke="#0a9a8b" stroke-width="0.7" fill="none"/>
<circle cx="367.2" cy="84.5" r="1.05" fill="#0a9a8b"/>
<circle cx="367.2" cy="88.3" r="1.05" fill="#0a9a8b"/>
<circle cx="367.2" cy="92.1" r="1.05" fill="#0a9a8b"/>
<rect x="359.5" y="68.5" width="7" height="7" fill="#fff" stroke="#767676" stroke-width="1"/>
<path d="M364.3,69.4 L362.2,72.0 L364.2,72.0 L362.1,74.7" fill="none" stroke="#000" stroke-width="1.25" stroke-linejoin="miter" stroke-miterlimit="3"/>
<path d="M378.1,84.9 h2.5999999999999996 l2,2.8 v2 l-2,2.8 h-2.5999999999999996 Z" fill="#c3e46a" stroke="#a6c94e" stroke-width="0.4"/>
<path d="M350,120.10000000000001 Q350,118.10000000000001 352,118.10000000000001 L359.5,118.10000000000001 L360.8,119.4 L373,119.4 Q374.8,119.4 374.8,121.4 L374.8,140.4 Q374.8,142.4 372.8,142.4 L352,142.4 Q350,142.4 350,140.4 Z" fill="#0a9a8b"/>
<path d="M353,122.2 L362.2,125.4 L362.2,140.20000000000002 L353,136.4 Z M362.8,125.4 L372,122.2 L372,136.4 L362.8,140.20000000000002 Z" fill="#fff"/>
<path d="M354.8,134.70000000000002 L362.5,137.9 L370.2,134.70000000000002" stroke="#0a9a8b" stroke-width="0.7" fill="none"/>
<circle cx="367.2" cy="126.10000000000001" r="1.05" fill="#0a9a8b"/>
<circle cx="367.2" cy="129.9" r="1.05" fill="#0a9a8b"/>
<circle cx="367.2" cy="133.70000000000002" r="1.05" fill="#0a9a8b"/>
<rect x="359.5" y="110.5" width="7" height="7" fill="#fff" stroke="#767676" stroke-width="1"/>
<path d="M364.3,111.4 L362.2,114.0 L364.2,114.0 L362.1,116.7" fill="none" stroke="#000" stroke-width="1.25" stroke-linejoin="miter" stroke-miterlimit="3"/>
<path d="M378.1,126.50000000000001 h2.5999999999999996 l2,2.8 v2 l-2,2.8 h-2.5999999999999996 Z" fill="#c3e46a" stroke="#a6c94e" stroke-width="0.4"/>
<path d="M350,161.8 Q350,159.8 352,159.8 L359.5,159.8 L360.8,161.10000000000002 L373,161.10000000000002 Q374.8,161.10000000000002 374.8,163.10000000000002 L374.8,182.10000000000002 Q374.8,184.10000000000002 372.8,184.10000000000002 L352,184.10000000000002 Q350,184.10000000000002 350,182.10000000000002 Z" fill="#0a9a8b"/>
<path d="M353,163.9 L362.2,167.10000000000002 L362.2,181.9 L353,178.10000000000002 Z M362.8,167.10000000000002 L372,163.9 L372,178.10000000000002 L362.8,181.9 Z" fill="#fff"/>
<path d="M354.8,176.4 L362.5,179.60000000000002 L370.2,176.4" stroke="#0a9a8b" stroke-width="0.7" fill="none"/>
<circle cx="367.2" cy="167.8" r="1.05" fill="#0a9a8b"/>
<circle cx="367.2" cy="171.60000000000002" r="1.05" fill="#0a9a8b"/>
<circle cx="367.2" cy="175.4" r="1.05" fill="#0a9a8b"/>
<rect x="359.5" y="152.5" width="7" height="7" fill="#fff" stroke="#767676" stroke-width="1"/>
<path d="M364.3,153.4 L362.2,156.0 L364.2,156.0 L362.1,158.7" fill="none" stroke="#000" stroke-width="1.25" stroke-linejoin="miter" stroke-miterlimit="3"/>
<path d="M378.1,168.2 h2.5999999999999996 l2,2.8 v2 l-2,2.8 h-2.5999999999999996 Z" fill="#c3e46a" stroke="#a6c94e" stroke-width="0.4"/>
<path d="M350,220.3 Q350,218.3 352,218.3 L359.5,218.3 L360.8,219.60000000000002 L373,219.60000000000002 Q374.8,219.60000000000002 374.8,221.60000000000002 L374.8,240.60000000000002 Q374.8,242.60000000000002 372.8,242.60000000000002 L352,242.60000000000002 Q350,242.60000000000002 350,240.60000000000002 Z" fill="#0a9a8b"/>
<path d="M353,222.4 L362.2,225.60000000000002 L362.2,240.4 L353,236.60000000000002 Z M362.8,225.60000000000002 L372,222.4 L372,236.60000000000002 L362.8,240.4 Z" fill="#fff"/>
<path d="M354.8,234.9 L362.5,238.10000000000002 L370.2,234.9" stroke="#0a9a8b" stroke-width="0.7" fill="none"/>
<circle cx="367.2" cy="226.3" r="1.05" fill="#0a9a8b"/>
<circle cx="367.2" cy="230.10000000000002" r="1.05" fill="#0a9a8b"/>
<circle cx="367.2" cy="233.9" r="1.05" fill="#0a9a8b"/>
<rect x="359.5" y="210.5" width="7" height="7" fill="#fff" stroke="#767676" stroke-width="1"/>
<path d="M364.3,211.4 L362.2,214.0 L364.2,214.0 L362.1,216.7" fill="none" stroke="#000" stroke-width="1.25" stroke-linejoin="miter" stroke-miterlimit="3"/>
<path d="M378.1,226.7 h2.5999999999999996 l2,2.8 v2 l-2,2.8 h-2.5999999999999996 Z" fill="#c3e46a" stroke="#a6c94e" stroke-width="0.4"/>
<path d="M350,261.8 Q350,259.8 352,259.8 L359.5,259.8 L360.8,261.1 L373,261.1 Q374.8,261.1 374.8,263.1 L374.8,282.1 Q374.8,284.1 372.8,284.1 L352,284.1 Q350,284.1 350,282.1 Z" fill="#0a9a8b"/>
<path d="M353,263.90000000000003 L362.2,267.1 L362.2,281.90000000000003 L353,278.1 Z M362.8,267.1 L372,263.90000000000003 L372,278.1 L362.8,281.90000000000003 Z" fill="#fff"/>
<path d="M354.8,276.40000000000003 L362.5,279.6 L370.2,276.40000000000003" stroke="#0a9a8b" stroke-width="0.7" fill="none"/>
<circle cx="367.2" cy="267.8" r="1.05" fill="#0a9a8b"/>
<circle cx="367.2" cy="271.6" r="1.05" fill="#0a9a8b"/>
<circle cx="367.2" cy="275.40000000000003" r="1.05" fill="#0a9a8b"/>
<rect x="359.5" y="252.5" width="7" height="7" fill="#fff" stroke="#767676" stroke-width="1"/>
<path d="M364.3,253.4 L362.2,256.0 L364.2,256.0 L362.1,258.7" fill="none" stroke="#000" stroke-width="1.25" stroke-linejoin="miter" stroke-miterlimit="3"/>
<path d="M378.1,268.2 h2.5999999999999996 l2,2.8 v2 l-2,2.8 h-2.5999999999999996 Z" fill="#c3e46a" stroke="#a6c94e" stroke-width="0.4"/>
<path d="M350,320.3 Q350,318.3 352,318.3 L359.5,318.3 L360.8,319.6 L373,319.6 Q374.8,319.6 374.8,321.6 L374.8,340.6 Q374.8,342.6 372.8,342.6 L352,342.6 Q350,342.6 350,340.6 Z" fill="#0a9a8b"/>
<path d="M353,322.40000000000003 L362.2,325.6 L362.2,340.40000000000003 L353,336.6 Z M362.8,325.6 L372,322.40000000000003 L372,336.6 L362.8,340.40000000000003 Z" fill="#fff"/>
<path d="M354.8,334.90000000000003 L362.5,338.1 L370.2,334.90000000000003" stroke="#0a9a8b" stroke-width="0.7" fill="none"/>
<circle cx="367.2" cy="326.3" r="1.05" fill="#0a9a8b"/>
<circle cx="367.2" cy="330.1" r="1.05" fill="#0a9a8b"/>
<circle cx="367.2" cy="333.90000000000003" r="1.05" fill="#0a9a8b"/>
<rect x="359.5" y="310.5" width="7" height="7" fill="#fff" stroke="#767676" stroke-width="1"/>
<path d="M364.3,311.4 L362.2,314.0 L364.2,314.0 L362.1,316.7" fill="none" stroke="#000" stroke-width="1.25" stroke-linejoin="miter" stroke-miterlimit="3"/>
<path d="M378.1,326.7 h2.5999999999999996 l2,2.8 v2 l-2,2.8 h-2.5999999999999996 Z" fill="#c3e46a" stroke="#a6c94e" stroke-width="0.4"/>
<path d="M350,370.0 Q350,368.0 352,368.0 L359.5,368.0 L360.8,369.3 L373,369.3 Q374.8,369.3 374.8,371.3 L374.8,390.3 Q374.8,392.3 372.8,392.3 L352,392.3 Q350,392.3 350,390.3 Z" fill="#0a9a8b"/>
<path d="M353,372.1 L362.2,375.3 L362.2,390.1 L353,386.3 Z M362.8,375.3 L372,372.1 L372,386.3 L362.8,390.1 Z" fill="#fff"/>
<path d="M354.8,384.6 L362.5,387.8 L370.2,384.6" stroke="#0a9a8b" stroke-width="0.7" fill="none"/>
<circle cx="367.2" cy="376.0" r="1.05" fill="#0a9a8b"/>
<circle cx="367.2" cy="379.8" r="1.05" fill="#0a9a8b"/>
<circle cx="367.2" cy="383.6" r="1.05" fill="#0a9a8b"/>
<rect x="359.5" y="360.5" width="7" height="7" fill="#fff" stroke="#767676" stroke-width="1"/>
<path d="M364.3,361.4 L362.2,364.0 L364.2,364.0 L362.1,366.7" fill="none" stroke="#000" stroke-width="1.25" stroke-linejoin="miter" stroke-miterlimit="3"/>
<path d="M378.1,376.4 h2.5999999999999996 l2,2.8 v2 l-2,2.8 h-2.5999999999999996 Z" fill="#c3e46a" stroke="#a6c94e" stroke-width="0.4"/>
<path d="M350,411.6 Q350,409.6 352,409.6 L359.5,409.6 L360.8,410.90000000000003 L373,410.90000000000003 Q374.8,410.90000000000003 374.8,412.90000000000003 L374.8,431.90000000000003 Q374.8,433.90000000000003 372.8,433.90000000000003 L352,433.90000000000003 Q350,433.90000000000003 350,431.90000000000003 Z" fill="#0a9a8b"/>
<path d="M353,413.70000000000005 L362.2,416.90000000000003 L362.2,431.70000000000005 L353,427.90000000000003 Z M362.8,416.90000000000003 L372,413.70000000000005 L372,427.90000000000003 L362.8,431.70000000000005 Z" fill="#fff"/>
<path d="M354.8,426.20000000000005 L362.5,429.40000000000003 L370.2,426.20000000000005" stroke="#0a9a8b" stroke-width="0.7" fill="none"/>
<circle cx="367.2" cy="417.6" r="1.05" fill="#0a9a8b"/>
<circle cx="367.2" cy="421.40000000000003" r="1.05" fill="#0a9a8b"/>
<circle cx="367.2" cy="425.20000000000005" r="1.05" fill="#0a9a8b"/>
<rect x="359.5" y="402.5" width="7" height="7" fill="#fff" stroke="#767676" stroke-width="1"/>
<path d="M364.3,403.4 L362.2,406.0 L364.2,406.0 L362.1,408.7" fill="none" stroke="#000" stroke-width="1.25" stroke-linejoin="miter" stroke-miterlimit="3"/>
<path d="M378.1,418.0 h2.5999999999999996 l2,2.8 v2 l-2,2.8 h-2.5999999999999996 Z" fill="#c3e46a" stroke="#a6c94e" stroke-width="0.4"/>
<path d="M350,453.3 Q350,451.3 352,451.3 L359.5,451.3 L360.8,452.6 L373,452.6 Q374.8,452.6 374.8,454.6 L374.8,473.6 Q374.8,475.6 372.8,475.6 L352,475.6 Q350,475.6 350,473.6 Z" fill="#0a9a8b"/>
<path d="M353,455.40000000000003 L362.2,458.6 L362.2,473.40000000000003 L353,469.6 Z M362.8,458.6 L372,455.40000000000003 L372,469.6 L362.8,473.40000000000003 Z" fill="#fff"/>
<path d="M354.8,467.90000000000003 L362.5,471.1 L370.2,467.90000000000003" stroke="#0a9a8b" stroke-width="0.7" fill="none"/>
<circle cx="367.2" cy="459.3" r="1.05" fill="#0a9a8b"/>
<circle cx="367.2" cy="463.1" r="1.05" fill="#0a9a8b"/>
<circle cx="367.2" cy="466.90000000000003" r="1.05" fill="#0a9a8b"/>
<rect x="359.5" y="443.5" width="7" height="7" fill="#fff" stroke="#767676" stroke-width="1"/>
<path d="M364.3,444.4 L362.2,447.0 L364.2,447.0 L362.1,449.7" fill="none" stroke="#000" stroke-width="1.25" stroke-linejoin="miter" stroke-miterlimit="3"/>
<path d="M378.1,459.7 h2.5999999999999996 l2,2.8 v2 l-2,2.8 h-2.5999999999999996 Z" fill="#c3e46a" stroke="#a6c94e" stroke-width="0.4"/>
<path d="M350,511.8 Q350,509.8 352,509.8 L359.5,509.8 L360.8,511.1 L373,511.1 Q374.8,511.1 374.8,513.1 L374.8,532.1 Q374.8,534.1 372.8,534.1 L352,534.1 Q350,534.1 350,532.1 Z" fill="#0a9a8b"/>
<path d="M353,513.9 L362.2,517.1 L362.2,531.9 L353,528.1 Z M362.8,517.1 L372,513.9 L372,528.1 L362.8,531.9 Z" fill="#fff"/>
<path d="M354.8,526.4 L362.5,529.6 L370.2,526.4" stroke="#0a9a8b" stroke-width="0.7" fill="none"/>
<circle cx="367.2" cy="517.8" r="1.05" fill="#0a9a8b"/>
<circle cx="367.2" cy="521.5999999999999" r="1.05" fill="#0a9a8b"/>
<circle cx="367.2" cy="525.4" r="1.05" fill="#0a9a8b"/>
<rect x="359.5" y="502.5" width="7" height="7" fill="#fff" stroke="#767676" stroke-width="1"/>
<path d="M364.3,503.4 L362.2,506.0 L364.2,506.0 L362.1,508.7" fill="none" stroke="#000" stroke-width="1.25" stroke-linejoin="miter" stroke-miterlimit="3"/>
<path d="M378.1,518.2 h2.5999999999999996 l2,2.8 v2 l-2,2.8 h-2.5999999999999996 Z" fill="#c3e46a" stroke="#a6c94e" stroke-width="0.4"/>
<path d="M350,553.0 Q350,551.0 352,551.0 L359.5,551.0 L360.8,552.3 L373,552.3 Q374.8,552.3 374.8,554.3 L374.8,573.3 Q374.8,575.3 372.8,575.3 L352,575.3 Q350,575.3 350,573.3 Z" fill="#0a9a8b"/>
<path d="M353,555.1 L362.2,558.3 L362.2,573.1 L353,569.3 Z M362.8,558.3 L372,555.1 L372,569.3 L362.8,573.1 Z" fill="#fff"/>
<path d="M354.8,567.6 L362.5,570.8 L370.2,567.6" stroke="#0a9a8b" stroke-width="0.7" fill="none"/>
<circle cx="367.2" cy="559.0" r="1.05" fill="#0a9a8b"/>
<circle cx="367.2" cy="562.8" r="1.05" fill="#0a9a8b"/>
<circle cx="367.2" cy="566.6" r="1.05" fill="#0a9a8b"/>
<rect x="359.5" y="543.5" width="7" height="7" fill="#fff" stroke="#767676" stroke-width="1"/>
<path d="M364.3,544.4 L362.2,547.0 L364.2,547.0 L362.1,549.7" fill="none" stroke="#000" stroke-width="1.25" stroke-linejoin="miter" stroke-miterlimit="3"/>
<path d="M378.1,559.4000000000001 h2.5999999999999996 l2,2.8 v2 l-2,2.8 h-2.5999999999999996 Z" fill="#c3e46a" stroke="#a6c94e" stroke-width="0.4"/>
<rect x="449.7" y="59.2" width="25.3" height="25.1" rx="2.6" fill="#664a8f"/>
<g transform="translate(462.5,71.9) rotate(56)">
<path d="M-12.00,3.10 L-11.70,3.07 L-11.40,2.97 L-11.10,2.82 L-10.80,2.61 L-10.50,2.34 L-10.20,2.03 L-9.90,1.68 L-9.60,1.29 L-9.30,0.87 L-9.00,0.44 L-8.70,-0.00 L-8.40,-0.44 L-8.10,-0.87 L-7.80,-1.29 L-7.50,-1.68 L-7.20,-2.03 L-6.90,-2.34 L-6.60,-2.61 L-6.30,-2.82 L-6.00,-2.97 L-5.70,-3.07 L-5.40,-3.10 L-5.10,-3.07 L-4.80,-2.97 L-4.50,-2.82 L-4.20,-2.61 L-3.90,-2.34 L-3.60,-2.03 L-3.30,-1.68 L-3.00,-1.29 L-2.70,-0.87 L-2.40,-0.44 L-2.10,0.00 L-1.80,0.44 L-1.50,0.87 L-1.20,1.29 L-0.90,1.68 L-0.60,2.03 L-0.30,2.34 L0.00,2.61 L0.30,2.82 L0.60,2.97 L0.90,3.07 L1.20,3.10 L1.50,3.07 L1.80,2.97 L2.10,2.82 L2.40,2.61 L2.70,2.34 L3.00,2.03 L3.30,1.68 L3.60,1.29 L3.90,0.87 L4.20,0.44 L4.50,0.00 L4.80,-0.44 L5.10,-0.87 L5.40,-1.29 L5.70,-1.68 L6.00,-2.03 L6.30,-2.34 L6.60,-2.61 L6.90,-2.82 L7.20,-2.97 L7.50,-3.07 L7.80,-3.10 L8.10,-3.07 L8.40,-2.97 L8.70,-2.82 L9.00,-2.61 L9.30,-2.34 L9.60,-2.03 L9.90,-1.68 L10.20,-1.29 L10.50,-0.87 L10.80,-0.44 L11.10,-0.00 L11.40,0.44 L11.70,0.87 L12.00,1.29" stroke="#fff" stroke-width="2.0" fill="none"/>
<path d="M-12.00,-3.10 L-11.70,-3.07 L-11.40,-2.97 L-11.10,-2.82 L-10.80,-2.61 L-10.50,-2.34 L-10.20,-2.03 L-9.90,-1.68 L-9.60,-1.29 L-9.30,-0.87 L-9.00,-0.44 L-8.70,0.00 L-8.40,0.44 L-8.10,0.87 L-7.80,1.29 L-7.50,1.68 L-7.20,2.03 L-6.90,2.34 L-6.60,2.61 L-6.30,2.82 L-6.00,2.97 L-5.70,3.07 L-5.40,3.10 L-5.10,3.07 L-4.80,2.97 L-4.50,2.82 L-4.20,2.61 L-3.90,2.34 L-3.60,2.03 L-3.30,1.68 L-3.00,1.29 L-2.70,0.87 L-2.40,0.44 L-2.10,-0.00 L-1.80,-0.44 L-1.50,-0.87 L-1.20,-1.29 L-0.90,-1.68 L-0.60,-2.03 L-0.30,-2.34 L0.00,-2.61 L0.30,-2.82 L0.60,-2.97 L0.90,-3.07 L1.20,-3.10 L1.50,-3.07 L1.80,-2.97 L2.10,-2.82 L2.40,-2.61 L2.70,-2.34 L3.00,-2.03 L3.30,-1.68 L3.60,-1.29 L3.90,-0.87 L4.20,-0.44 L4.50,-0.00 L4.80,0.44 L5.10,0.87 L5.40,1.29 L5.70,1.68 L6.00,2.03 L6.30,2.34 L6.60,2.61 L6.90,2.82 L7.20,2.97 L7.50,3.07 L7.80,3.10 L8.10,3.07 L8.40,2.97 L8.70,2.82 L9.00,2.61 L9.30,2.34 L9.60,2.03 L9.90,1.68 L10.20,1.29 L10.50,0.87 L10.80,0.44 L11.10,0.00 L11.40,-0.44 L11.70,-0.87 L12.00,-1.29" stroke="#fff" stroke-width="1.6" fill="none"/>
<path d="M-8.7,-1.0 V1.0" stroke="#fff" stroke-width="0.7" opacity="0.7"/>
<path d="M-2.1,-1.0 V1.0" stroke="#fff" stroke-width="0.7" opacity="0.7"/>
<path d="M4.5,-1.0 V1.0" stroke="#fff" stroke-width="0.7" opacity="0.7"/>
</g>
<path d="M450.90000000000003,64.7 L454.7,62.300000000000004 L454.5,66.9 Z M473.90000000000003,77.9 L470.1,75.5 L470.3,80.10000000000001 Z" fill="#fff"/>
<rect x="459.5" y="52.5" width="7" height="7" fill="#fff" stroke="#767676" stroke-width="1"/>
<path d="M464.3,53.4 L462.2,56.0 L464.2,56.0 L462.1,58.7" fill="none" stroke="#000" stroke-width="1.25" stroke-linejoin="miter" stroke-miterlimit="3"/>
<g><rect x="442.2" y="68.10000000000001" width="5.2" height="7.5" fill="#8e8e8e"/><rect x="443.2" y="69.10000000000001" width="3.2" height="5.5" fill="#c2c2c2"/><path d="M443.2,70.9 h3.2 M443.2,72.7 h3.2" stroke="#7a7a7a" stroke-width="0.7"/></g>
<path d="M477.7,67.9 h3.0 l2,2.75 v2 l-2,2.75 h-3.0 Z" fill="#c3e46a" stroke="#a6c94e" stroke-width="0.4"/>
<rect x="449.7" y="125.80000000000001" width="25.3" height="25.1" rx="2.6" fill="#664a8f"/>
<g transform="translate(462.5,138.5) rotate(56)">
<path d="M-12.00,3.10 L-11.70,3.07 L-11.40,2.97 L-11.10,2.82 L-10.80,2.61 L-10.50,2.34 L-10.20,2.03 L-9.90,1.68 L-9.60,1.29 L-9.30,0.87 L-9.00,0.44 L-8.70,-0.00 L-8.40,-0.44 L-8.10,-0.87 L-7.80,-1.29 L-7.50,-1.68 L-7.20,-2.03 L-6.90,-2.34 L-6.60,-2.61 L-6.30,-2.82 L-6.00,-2.97 L-5.70,-3.07 L-5.40,-3.10 L-5.10,-3.07 L-4.80,-2.97 L-4.50,-2.82 L-4.20,-2.61 L-3.90,-2.34 L-3.60,-2.03 L-3.30,-1.68 L-3.00,-1.29 L-2.70,-0.87 L-2.40,-0.44 L-2.10,0.00 L-1.80,0.44 L-1.50,0.87 L-1.20,1.29 L-0.90,1.68 L-0.60,2.03 L-0.30,2.34 L0.00,2.61 L0.30,2.82 L0.60,2.97 L0.90,3.07 L1.20,3.10 L1.50,3.07 L1.80,2.97 L2.10,2.82 L2.40,2.61 L2.70,2.34 L3.00,2.03 L3.30,1.68 L3.60,1.29 L3.90,0.87 L4.20,0.44 L4.50,0.00 L4.80,-0.44 L5.10,-0.87 L5.40,-1.29 L5.70,-1.68 L6.00,-2.03 L6.30,-2.34 L6.60,-2.61 L6.90,-2.82 L7.20,-2.97 L7.50,-3.07 L7.80,-3.10 L8.10,-3.07 L8.40,-2.97 L8.70,-2.82 L9.00,-2.61 L9.30,-2.34 L9.60,-2.03 L9.90,-1.68 L10.20,-1.29 L10.50,-0.87 L10.80,-0.44 L11.10,-0.00 L11.40,0.44 L11.70,0.87 L12.00,1.29" stroke="#fff" stroke-width="2.0" fill="none"/>
<path d="M-12.00,-3.10 L-11.70,-3.07 L-11.40,-2.97 L-11.10,-2.82 L-10.80,-2.61 L-10.50,-2.34 L-10.20,-2.03 L-9.90,-1.68 L-9.60,-1.29 L-9.30,-0.87 L-9.00,-0.44 L-8.70,0.00 L-8.40,0.44 L-8.10,0.87 L-7.80,1.29 L-7.50,1.68 L-7.20,2.03 L-6.90,2.34 L-6.60,2.61 L-6.30,2.82 L-6.00,2.97 L-5.70,3.07 L-5.40,3.10 L-5.10,3.07 L-4.80,2.97 L-4.50,2.82 L-4.20,2.61 L-3.90,2.34 L-3.60,2.03 L-3.30,1.68 L-3.00,1.29 L-2.70,0.87 L-2.40,0.44 L-2.10,-0.00 L-1.80,-0.44 L-1.50,-0.87 L-1.20,-1.29 L-0.90,-1.68 L-0.60,-2.03 L-0.30,-2.34 L0.00,-2.61 L0.30,-2.82 L0.60,-2.97 L0.90,-3.07 L1.20,-3.10 L1.50,-3.07 L1.80,-2.97 L2.10,-2.82 L2.40,-2.61 L2.70,-2.34 L3.00,-2.03 L3.30,-1.68 L3.60,-1.29 L3.90,-0.87 L4.20,-0.44 L4.50,-0.00 L4.80,0.44 L5.10,0.87 L5.40,1.29 L5.70,1.68 L6.00,2.03 L6.30,2.34 L6.60,2.61 L6.90,2.82 L7.20,2.97 L7.50,3.07 L7.80,3.10 L8.10,3.07 L8.40,2.97 L8.70,2.82 L9.00,2.61 L9.30,2.34 L9.60,2.03 L9.90,1.68 L10.20,1.29 L10.50,0.87 L10.80,0.44 L11.10,0.00 L11.40,-0.44 L11.70,-0.87 L12.00,-1.29" stroke="#fff" stroke-width="1.6" fill="none"/>
<path d="M-8.7,-1.0 V1.0" stroke="#fff" stroke-width="0.7" opacity="0.7"/>
<path d="M-2.1,-1.0 V1.0" stroke="#fff" stroke-width="0.7" opacity="0.7"/>
<path d="M4.5,-1.0 V1.0" stroke="#fff" stroke-width="0.7" opacity="0.7"/>
</g>
<path d="M450.90000000000003,131.3 L454.7,128.9 L454.5,133.5 Z M473.90000000000003,144.5 L470.1,142.10000000000002 L470.3,146.70000000000002 Z" fill="#fff"/>
<rect x="459.5" y="118.5" width="7" height="7" fill="#fff" stroke="#767676" stroke-width="1"/>
<path d="M464.3,119.4 L462.2,122.0 L464.2,122.0 L462.1,124.7" fill="none" stroke="#000" stroke-width="1.25" stroke-linejoin="miter" stroke-miterlimit="3"/>
<g><rect x="442.2" y="134.70000000000002" width="5.2" height="7.5" fill="#8e8e8e"/><rect x="443.2" y="135.70000000000002" width="3.2" height="5.5" fill="#c2c2c2"/><path d="M443.2,137.50000000000003 h3.2 M443.2,139.3 h3.2" stroke="#7a7a7a" stroke-width="0.7"/></g>
<path d="M477.7,134.5 h3.0 l2,2.75 v2 l-2,2.75 h-3.0 Z" fill="#c3e46a" stroke="#a6c94e" stroke-width="0.4"/>
<rect x="449.7" y="243.0" width="25.3" height="25.1" rx="2.6" fill="#664a8f"/>
<g transform="translate(462.5,255.7) rotate(56)">
<path d="M-12.00,3.10 L-11.70,3.07 L-11.40,2.97 L-11.10,2.82 L-10.80,2.61 L-10.50,2.34 L-10.20,2.03 L-9.90,1.68 L-9.60,1.29 L-9.30,0.87 L-9.00,0.44 L-8.70,-0.00 L-8.40,-0.44 L-8.10,-0.87 L-7.80,-1.29 L-7.50,-1.68 L-7.20,-2.03 L-6.90,-2.34 L-6.60,-2.61 L-6.30,-2.82 L-6.00,-2.97 L-5.70,-3.07 L-5.40,-3.10 L-5.10,-3.07 L-4.80,-2.97 L-4.50,-2.82 L-4.20,-2.61 L-3.90,-2.34 L-3.60,-2.03 L-3.30,-1.68 L-3.00,-1.29 L-2.70,-0.87 L-2.40,-0.44 L-2.10,0.00 L-1.80,0.44 L-1.50,0.87 L-1.20,1.29 L-0.90,1.68 L-0.60,2.03 L-0.30,2.34 L0.00,2.61 L0.30,2.82 L0.60,2.97 L0.90,3.07 L1.20,3.10 L1.50,3.07 L1.80,2.97 L2.10,2.82 L2.40,2.61 L2.70,2.34 L3.00,2.03 L3.30,1.68 L3.60,1.29 L3.90,0.87 L4.20,0.44 L4.50,0.00 L4.80,-0.44 L5.10,-0.87 L5.40,-1.29 L5.70,-1.68 L6.00,-2.03 L6.30,-2.34 L6.60,-2.61 L6.90,-2.82 L7.20,-2.97 L7.50,-3.07 L7.80,-3.10 L8.10,-3.07 L8.40,-2.97 L8.70,-2.82 L9.00,-2.61 L9.30,-2.34 L9.60,-2.03 L9.90,-1.68 L10.20,-1.29 L10.50,-0.87 L10.80,-0.44 L11.10,-0.00 L11.40,0.44 L11.70,0.87 L12.00,1.29" stroke="#fff" stroke-width="2.0" fill="none"/>
<path d="M-12.00,-3.10 L-11.70,-3.07 L-11.40,-2.97 L-11.10,-2.82 L-10.80,-2.61 L-10.50,-2.34 L-10.20,-2.03 L-9.90,-1.68 L-9.60,-1.29 L-9.30,-0.87 L-9.00,-0.44 L-8.70,0.00 L-8.40,0.44 L-8.10,0.87 L-7.80,1.29 L-7.50,1.68 L-7.20,2.03 L-6.90,2.34 L-6.60,2.61 L-6.30,2.82 L-6.00,2.97 L-5.70,3.07 L-5.40,3.10 L-5.10,3.07 L-4.80,2.97 L-4.50,2.82 L-4.20,2.61 L-3.90,2.34 L-3.60,2.03 L-3.30,1.68 L-3.00,1.29 L-2.70,0.87 L-2.40,0.44 L-2.10,-0.00 L-1.80,-0.44 L-1.50,-0.87 L-1.20,-1.29 L-0.90,-1.68 L-0.60,-2.03 L-0.30,-2.34 L0.00,-2.61 L0.30,-2.82 L0.60,-2.97 L0.90,-3.07 L1.20,-3.10 L1.50,-3.07 L1.80,-2.97 L2.10,-2.82 L2.40,-2.61 L2.70,-2.34 L3.00,-2.03 L3.30,-1.68 L3.60,-1.29 L3.90,-0.87 L4.20,-0.44 L4.50,-0.00 L4.80,0.44 L5.10,0.87 L5.40,1.29 L5.70,1.68 L6.00,2.03 L6.30,2.34 L6.60,2.61 L6.90,2.82 L7.20,2.97 L7.50,3.07 L7.80,3.10 L8.10,3.07 L8.40,2.97 L8.70,2.82 L9.00,2.61 L9.30,2.34 L9.60,2.03 L9.90,1.68 L10.20,1.29 L10.50,0.87 L10.80,0.44 L11.10,0.00 L11.40,-0.44 L11.70,-0.87 L12.00,-1.29" stroke="#fff" stroke-width="1.6" fill="none"/>
<path d="M-8.7,-1.0 V1.0" stroke="#fff" stroke-width="0.7" opacity="0.7"/>
<path d="M-2.1,-1.0 V1.0" stroke="#fff" stroke-width="0.7" opacity="0.7"/>
<path d="M4.5,-1.0 V1.0" stroke="#fff" stroke-width="0.7" opacity="0.7"/>
</g>
<path d="M450.90000000000003,248.5 L454.7,246.1 L454.5,250.7 Z M473.90000000000003,261.7 L470.1,259.3 L470.3,263.9 Z" fill="#fff"/>
<rect x="459.5" y="235.5" width="7" height="7" fill="#fff" stroke="#767676" stroke-width="1"/>
<path d="M464.3,236.4 L462.2,239.0 L464.2,239.0 L462.1,241.7" fill="none" stroke="#000" stroke-width="1.25" stroke-linejoin="miter" stroke-miterlimit="3"/>
<g><rect x="442.2" y="251.9" width="5.2" height="7.5" fill="#8e8e8e"/><rect x="443.2" y="252.9" width="3.2" height="5.5" fill="#c2c2c2"/><path d="M443.2,254.70000000000002 h3.2 M443.2,256.5 h3.2" stroke="#7a7a7a" stroke-width="0.7"/></g>
<path d="M477.7,251.7 h3.0 l2,2.75 v2 l-2,2.75 h-3.0 Z" fill="#c3e46a" stroke="#a6c94e" stroke-width="0.4"/>
<rect x="449.7" y="342.8" width="25.3" height="25.1" rx="2.6" fill="#664a8f"/>
<g transform="translate(462.5,355.5) rotate(56)">
<path d="M-12.00,3.10 L-11.70,3.07 L-11.40,2.97 L-11.10,2.82 L-10.80,2.61 L-10.50,2.34 L-10.20,2.03 L-9.90,1.68 L-9.60,1.29 L-9.30,0.87 L-9.00,0.44 L-8.70,-0.00 L-8.40,-0.44 L-8.10,-0.87 L-7.80,-1.29 L-7.50,-1.68 L-7.20,-2.03 L-6.90,-2.34 L-6.60,-2.61 L-6.30,-2.82 L-6.00,-2.97 L-5.70,-3.07 L-5.40,-3.10 L-5.10,-3.07 L-4.80,-2.97 L-4.50,-2.82 L-4.20,-2.61 L-3.90,-2.34 L-3.60,-2.03 L-3.30,-1.68 L-3.00,-1.29 L-2.70,-0.87 L-2.40,-0.44 L-2.10,0.00 L-1.80,0.44 L-1.50,0.87 L-1.20,1.29 L-0.90,1.68 L-0.60,2.03 L-0.30,2.34 L0.00,2.61 L0.30,2.82 L0.60,2.97 L0.90,3.07 L1.20,3.10 L1.50,3.07 L1.80,2.97 L2.10,2.82 L2.40,2.61 L2.70,2.34 L3.00,2.03 L3.30,1.68 L3.60,1.29 L3.90,0.87 L4.20,0.44 L4.50,0.00 L4.80,-0.44 L5.10,-0.87 L5.40,-1.29 L5.70,-1.68 L6.00,-2.03 L6.30,-2.34 L6.60,-2.61 L6.90,-2.82 L7.20,-2.97 L7.50,-3.07 L7.80,-3.10 L8.10,-3.07 L8.40,-2.97 L8.70,-2.82 L9.00,-2.61 L9.30,-2.34 L9.60,-2.03 L9.90,-1.68 L10.20,-1.29 L10.50,-0.87 L10.80,-0.44 L11.10,-0.00 L11.40,0.44 L11.70,0.87 L12.00,1.29" stroke="#fff" stroke-width="2.0" fill="none"/>
<path d="M-12.00,-3.10 L-11.70,-3.07 L-11.40,-2.97 L-11.10,-2.82 L-10.80,-2.61 L-10.50,-2.34 L-10.20,-2.03 L-9.90,-1.68 L-9.60,-1.29 L-9.30,-0.87 L-9.00,-0.44 L-8.70,0.00 L-8.40,0.44 L-8.10,0.87 L-7.80,1.29 L-7.50,1.68 L-7.20,2.03 L-6.90,2.34 L-6.60,2.61 L-6.30,2.82 L-6.00,2.97 L-5.70,3.07 L-5.40,3.10 L-5.10,3.07 L-4.80,2.97 L-4.50,2.82 L-4.20,2.61 L-3.90,2.34 L-3.60,2.03 L-3.30,1.68 L-3.00,1.29 L-2.70,0.87 L-2.40,0.44 L-2.10,-0.00 L-1.80,-0.44 L-1.50,-0.87 L-1.20,-1.29 L-0.90,-1.68 L-0.60,-2.03 L-0.30,-2.34 L0.00,-2.61 L0.30,-2.82 L0.60,-2.97 L0.90,-3.07 L1.20,-3.10 L1.50,-3.07 L1.80,-2.97 L2.10,-2.82 L2.40,-2.61 L2.70,-2.34 L3.00,-2.03 L3.30,-1.68 L3.60,-1.29 L3.90,-0.87 L4.20,-0.44 L4.50,-0.00 L4.80,0.44 L5.10,0.87 L5.40,1.29 L5.70,1.68 L6.00,2.03 L6.30,2.34 L6.60,2.61 L6.90,2.82 L7.20,2.97 L7.50,3.07 L7.80,3.10 L8.10,3.07 L8.40,2.97 L8.70,2.82 L9.00,2.61 L9.30,2.34 L9.60,2.03 L9.90,1.68 L10.20,1.29 L10.50,0.87 L10.80,0.44 L11.10,0.00 L11.40,-0.44 L11.70,-0.87 L12.00,-1.29" stroke="#fff" stroke-width="1.6" fill="none"/>
<path d="M-8.7,-1.0 V1.0" stroke="#fff" stroke-width="0.7" opacity="0.7"/>
<path d="M-2.1,-1.0 V1.0" stroke="#fff" stroke-width="0.7" opacity="0.7"/>
<path d="M4.5,-1.0 V1.0" stroke="#fff" stroke-width="0.7" opacity="0.7"/>
</g>
<path d="M450.90000000000003,348.3 L454.7,345.90000000000003 L454.5,350.5 Z M473.90000000000003,361.5 L470.1,359.1 L470.3,363.7 Z" fill="#fff"/>
<rect x="459.5" y="335.5" width="7" height="7" fill="#fff" stroke="#767676" stroke-width="1"/>
<path d="M464.3,336.4 L462.2,339.0 L464.2,339.0 L462.1,341.7" fill="none" stroke="#000" stroke-width="1.25" stroke-linejoin="miter" stroke-miterlimit="3"/>
<g><rect x="442.2" y="351.7" width="5.2" height="7.5" fill="#8e8e8e"/><rect x="443.2" y="352.7" width="3.2" height="5.5" fill="#c2c2c2"/><path d="M443.2,354.5 h3.2 M443.2,356.3 h3.2" stroke="#7a7a7a" stroke-width="0.7"/></g>
<path d="M477.7,351.5 h3.0 l2,2.75 v2 l-2,2.75 h-3.0 Z" fill="#c3e46a" stroke="#a6c94e" stroke-width="0.4"/>
<rect x="449.7" y="434.3" width="25.3" height="25.1" rx="2.6" fill="#664a8f"/>
<g transform="translate(462.5,447.0) rotate(56)">
<path d="M-12.00,3.10 L-11.70,3.07 L-11.40,2.97 L-11.10,2.82 L-10.80,2.61 L-10.50,2.34 L-10.20,2.03 L-9.90,1.68 L-9.60,1.29 L-9.30,0.87 L-9.00,0.44 L-8.70,-0.00 L-8.40,-0.44 L-8.10,-0.87 L-7.80,-1.29 L-7.50,-1.68 L-7.20,-2.03 L-6.90,-2.34 L-6.60,-2.61 L-6.30,-2.82 L-6.00,-2.97 L-5.70,-3.07 L-5.40,-3.10 L-5.10,-3.07 L-4.80,-2.97 L-4.50,-2.82 L-4.20,-2.61 L-3.90,-2.34 L-3.60,-2.03 L-3.30,-1.68 L-3.00,-1.29 L-2.70,-0.87 L-2.40,-0.44 L-2.10,0.00 L-1.80,0.44 L-1.50,0.87 L-1.20,1.29 L-0.90,1.68 L-0.60,2.03 L-0.30,2.34 L0.00,2.61 L0.30,2.82 L0.60,2.97 L0.90,3.07 L1.20,3.10 L1.50,3.07 L1.80,2.97 L2.10,2.82 L2.40,2.61 L2.70,2.34 L3.00,2.03 L3.30,1.68 L3.60,1.29 L3.90,0.87 L4.20,0.44 L4.50,0.00 L4.80,-0.44 L5.10,-0.87 L5.40,-1.29 L5.70,-1.68 L6.00,-2.03 L6.30,-2.34 L6.60,-2.61 L6.90,-2.82 L7.20,-2.97 L7.50,-3.07 L7.80,-3.10 L8.10,-3.07 L8.40,-2.97 L8.70,-2.82 L9.00,-2.61 L9.30,-2.34 L9.60,-2.03 L9.90,-1.68 L10.20,-1.29 L10.50,-0.87 L10.80,-0.44 L11.10,-0.00 L11.40,0.44 L11.70,0.87 L12.00,1.29" stroke="#fff" stroke-width="2.0" fill="none"/>
<path d="M-12.00,-3.10 L-11.70,-3.07 L-11.40,-2.97 L-11.10,-2.82 L-10.80,-2.61 L-10.50,-2.34 L-10.20,-2.03 L-9.90,-1.68 L-9.60,-1.29 L-9.30,-0.87 L-9.00,-0.44 L-8.70,0.00 L-8.40,0.44 L-8.10,0.87 L-7.80,1.29 L-7.50,1.68 L-7.20,2.03 L-6.90,2.34 L-6.60,2.61 L-6.30,2.82 L-6.00,2.97 L-5.70,3.07 L-5.40,3.10 L-5.10,3.07 L-4.80,2.97 L-4.50,2.82 L-4.20,2.61 L-3.90,2.34 L-3.60,2.03 L-3.30,1.68 L-3.00,1.29 L-2.70,0.87 L-2.40,0.44 L-2.10,-0.00 L-1.80,-0.44 L-1.50,-0.87 L-1.20,-1.29 L-0.90,-1.68 L-0.60,-2.03 L-0.30,-2.34 L0.00,-2.61 L0.30,-2.82 L0.60,-2.97 L0.90,-3.07 L1.20,-3.10 L1.50,-3.07 L1.80,-2.97 L2.10,-2.82 L2.40,-2.61 L2.70,-2.34 L3.00,-2.03 L3.30,-1.68 L3.60,-1.29 L3.90,-0.87 L4.20,-0.44 L4.50,-0.00 L4.80,0.44 L5.10,0.87 L5.40,1.29 L5.70,1.68 L6.00,2.03 L6.30,2.34 L6.60,2.61 L6.90,2.82 L7.20,2.97 L7.50,3.07 L7.80,3.10 L8.10,3.07 L8.40,2.97 L8.70,2.82 L9.00,2.61 L9.30,2.34 L9.60,2.03 L9.90,1.68 L10.20,1.29 L10.50,0.87 L10.80,0.44 L11.10,0.00 L11.40,-0.44 L11.70,-0.87 L12.00,-1.29" stroke="#fff" stroke-width="1.6" fill="none"/>
<path d="M-8.7,-1.0 V1.0" stroke="#fff" stroke-width="0.7" opacity="0.7"/>
<path d="M-2.1,-1.0 V1.0" stroke="#fff" stroke-width="0.7" opacity="0.7"/>
<path d="M4.5,-1.0 V1.0" stroke="#fff" stroke-width="0.7" opacity="0.7"/>
</g>
<path d="M450.90000000000003,439.8 L454.7,437.40000000000003 L454.5,442.0 Z M473.90000000000003,453.0 L470.1,450.6 L470.3,455.2 Z" fill="#fff"/>
<rect x="459.5" y="427.5" width="7" height="7" fill="#fff" stroke="#767676" stroke-width="1"/>
<path d="M464.3,428.4 L462.2,431.0 L464.2,431.0 L462.1,433.7" fill="none" stroke="#000" stroke-width="1.25" stroke-linejoin="miter" stroke-miterlimit="3"/>
<g><rect x="442.2" y="443.2" width="5.2" height="7.5" fill="#8e8e8e"/><rect x="443.2" y="444.2" width="3.2" height="5.5" fill="#c2c2c2"/><path d="M443.2,446.0 h3.2 M443.2,447.8 h3.2" stroke="#7a7a7a" stroke-width="0.7"/></g>
<path d="M477.7,443.0 h3.0 l2,2.75 v2 l-2,2.75 h-3.0 Z" fill="#c3e46a" stroke="#a6c94e" stroke-width="0.4"/>
<rect x="449.7" y="534.2" width="25.3" height="25.1" rx="2.6" fill="#664a8f"/>
<g transform="translate(462.5,546.9000000000001) rotate(56)">
<path d="M-12.00,3.10 L-11.70,3.07 L-11.40,2.97 L-11.10,2.82 L-10.80,2.61 L-10.50,2.34 L-10.20,2.03 L-9.90,1.68 L-9.60,1.29 L-9.30,0.87 L-9.00,0.44 L-8.70,-0.00 L-8.40,-0.44 L-8.10,-0.87 L-7.80,-1.29 L-7.50,-1.68 L-7.20,-2.03 L-6.90,-2.34 L-6.60,-2.61 L-6.30,-2.82 L-6.00,-2.97 L-5.70,-3.07 L-5.40,-3.10 L-5.10,-3.07 L-4.80,-2.97 L-4.50,-2.82 L-4.20,-2.61 L-3.90,-2.34 L-3.60,-2.03 L-3.30,-1.68 L-3.00,-1.29 L-2.70,-0.87 L-2.40,-0.44 L-2.10,0.00 L-1.80,0.44 L-1.50,0.87 L-1.20,1.29 L-0.90,1.68 L-0.60,2.03 L-0.30,2.34 L0.00,2.61 L0.30,2.82 L0.60,2.97 L0.90,3.07 L1.20,3.10 L1.50,3.07 L1.80,2.97 L2.10,2.82 L2.40,2.61 L2.70,2.34 L3.00,2.03 L3.30,1.68 L3.60,1.29 L3.90,0.87 L4.20,0.44 L4.50,0.00 L4.80,-0.44 L5.10,-0.87 L5.40,-1.29 L5.70,-1.68 L6.00,-2.03 L6.30,-2.34 L6.60,-2.61 L6.90,-2.82 L7.20,-2.97 L7.50,-3.07 L7.80,-3.10 L8.10,-3.07 L8.40,-2.97 L8.70,-2.82 L9.00,-2.61 L9.30,-2.34 L9.60,-2.03 L9.90,-1.68 L10.20,-1.29 L10.50,-0.87 L10.80,-0.44 L11.10,-0.00 L11.40,0.44 L11.70,0.87 L12.00,1.29" stroke="#fff" stroke-width="2.0" fill="none"/>
<path d="M-12.00,-3.10 L-11.70,-3.07 L-11.40,-2.97 L-11.10,-2.82 L-10.80,-2.61 L-10.50,-2.34 L-10.20,-2.03 L-9.90,-1.68 L-9.60,-1.29 L-9.30,-0.87 L-9.00,-0.44 L-8.70,0.00 L-8.40,0.44 L-8.10,0.87 L-7.80,1.29 L-7.50,1.68 L-7.20,2.03 L-6.90,2.34 L-6.60,2.61 L-6.30,2.82 L-6.00,2.97 L-5.70,3.07 L-5.40,3.10 L-5.10,3.07 L-4.80,2.97 L-4.50,2.82 L-4.20,2.61 L-3.90,2.34 L-3.60,2.03 L-3.30,1.68 L-3.00,1.29 L-2.70,0.87 L-2.40,0.44 L-2.10,-0.00 L-1.80,-0.44 L-1.50,-0.87 L-1.20,-1.29 L-0.90,-1.68 L-0.60,-2.03 L-0.30,-2.34 L0.00,-2.61 L0.30,-2.82 L0.60,-2.97 L0.90,-3.07 L1.20,-3.10 L1.50,-3.07 L1.80,-2.97 L2.10,-2.82 L2.40,-2.61 L2.70,-2.34 L3.00,-2.03 L3.30,-1.68 L3.60,-1.29 L3.90,-0.87 L4.20,-0.44 L4.50,-0.00 L4.80,0.44 L5.10,0.87 L5.40,1.29 L5.70,1.68 L6.00,2.03 L6.30,2.34 L6.60,2.61 L6.90,2.82 L7.20,2.97 L7.50,3.07 L7.80,3.10 L8.10,3.07 L8.40,2.97 L8.70,2.82 L9.00,2.61 L9.30,2.34 L9.60,2.03 L9.90,1.68 L10.20,1.29 L10.50,0.87 L10.80,0.44 L11.10,0.00 L11.40,-0.44 L11.70,-0.87 L12.00,-1.29" stroke="#fff" stroke-width="1.6" fill="none"/>
<path d="M-8.7,-1.0 V1.0" stroke="#fff" stroke-width="0.7" opacity="0.7"/>
<path d="M-2.1,-1.0 V1.0" stroke="#fff" stroke-width="0.7" opacity="0.7"/>
<path d="M4.5,-1.0 V1.0" stroke="#fff" stroke-width="0.7" opacity="0.7"/>
</g>
<path d="M450.90000000000003,539.7 L454.7,537.3000000000001 L454.5,541.9000000000001 Z M473.90000000000003,552.9000000000001 L470.1,550.5 L470.3,555.1 Z" fill="#fff"/>
<rect x="459.5" y="527.5" width="7" height="7" fill="#fff" stroke="#767676" stroke-width="1"/>
<path d="M464.3,528.4 L462.2,531.0 L464.2,531.0 L462.1,533.7" fill="none" stroke="#000" stroke-width="1.25" stroke-linejoin="miter" stroke-miterlimit="3"/>
<g><rect x="442.2" y="543.1" width="5.2" height="7.5" fill="#8e8e8e"/><rect x="443.2" y="544.1" width="3.2" height="5.5" fill="#c2c2c2"/><path d="M443.2,545.9 h3.2 M443.2,547.7 h3.2" stroke="#7a7a7a" stroke-width="0.7"/></g>
<path d="M477.7,542.9000000000001 h3.0 l2,2.75 v2 l-2,2.75 h-3.0 Z" fill="#c3e46a" stroke="#a6c94e" stroke-width="0.4"/>
<rect x="534.4" y="259.1" width="25.3" height="25.1" rx="2.6" fill="#664a8f"/>
<g transform="translate(547.2,271.8) rotate(56)">
<path d="M-12.00,3.10 L-11.70,3.07 L-11.40,2.97 L-11.10,2.82 L-10.80,2.61 L-10.50,2.34 L-10.20,2.03 L-9.90,1.68 L-9.60,1.29 L-9.30,0.87 L-9.00,0.44 L-8.70,-0.00 L-8.40,-0.44 L-8.10,-0.87 L-7.80,-1.29 L-7.50,-1.68 L-7.20,-2.03 L-6.90,-2.34 L-6.60,-2.61 L-6.30,-2.82 L-6.00,-2.97 L-5.70,-3.07 L-5.40,-3.10 L-5.10,-3.07 L-4.80,-2.97 L-4.50,-2.82 L-4.20,-2.61 L-3.90,-2.34 L-3.60,-2.03 L-3.30,-1.68 L-3.00,-1.29 L-2.70,-0.87 L-2.40,-0.44 L-2.10,0.00 L-1.80,0.44 L-1.50,0.87 L-1.20,1.29 L-0.90,1.68 L-0.60,2.03 L-0.30,2.34 L0.00,2.61 L0.30,2.82 L0.60,2.97 L0.90,3.07 L1.20,3.10 L1.50,3.07 L1.80,2.97 L2.10,2.82 L2.40,2.61 L2.70,2.34 L3.00,2.03 L3.30,1.68 L3.60,1.29 L3.90,0.87 L4.20,0.44 L4.50,0.00 L4.80,-0.44 L5.10,-0.87 L5.40,-1.29 L5.70,-1.68 L6.00,-2.03 L6.30,-2.34 L6.60,-2.61 L6.90,-2.82 L7.20,-2.97 L7.50,-3.07 L7.80,-3.10 L8.10,-3.07 L8.40,-2.97 L8.70,-2.82 L9.00,-2.61 L9.30,-2.34 L9.60,-2.03 L9.90,-1.68 L10.20,-1.29 L10.50,-0.87 L10.80,-0.44 L11.10,-0.00 L11.40,0.44 L11.70,0.87 L12.00,1.29" stroke="#fff" stroke-width="2.0" fill="none"/>
<path d="M-12.00,-3.10 L-11.70,-3.07 L-11.40,-2.97 L-11.10,-2.82 L-10.80,-2.61 L-10.50,-2.34 L-10.20,-2.03 L-9.90,-1.68 L-9.60,-1.29 L-9.30,-0.87 L-9.00,-0.44 L-8.70,0.00 L-8.40,0.44 L-8.10,0.87 L-7.80,1.29 L-7.50,1.68 L-7.20,2.03 L-6.90,2.34 L-6.60,2.61 L-6.30,2.82 L-6.00,2.97 L-5.70,3.07 L-5.40,3.10 L-5.10,3.07 L-4.80,2.97 L-4.50,2.82 L-4.20,2.61 L-3.90,2.34 L-3.60,2.03 L-3.30,1.68 L-3.00,1.29 L-2.70,0.87 L-2.40,0.44 L-2.10,-0.00 L-1.80,-0.44 L-1.50,-0.87 L-1.20,-1.29 L-0.90,-1.68 L-0.60,-2.03 L-0.30,-2.34 L0.00,-2.61 L0.30,-2.82 L0.60,-2.97 L0.90,-3.07 L1.20,-3.10 L1.50,-3.07 L1.80,-2.97 L2.10,-2.82 L2.40,-2.61 L2.70,-2.34 L3.00,-2.03 L3.30,-1.68 L3.60,-1.29 L3.90,-0.87 L4.20,-0.44 L4.50,-0.00 L4.80,0.44 L5.10,0.87 L5.40,1.29 L5.70,1.68 L6.00,2.03 L6.30,2.34 L6.60,2.61 L6.90,2.82 L7.20,2.97 L7.50,3.07 L7.80,3.10 L8.10,3.07 L8.40,2.97 L8.70,2.82 L9.00,2.61 L9.30,2.34 L9.60,2.03 L9.90,1.68 L10.20,1.29 L10.50,0.87 L10.80,0.44 L11.10,0.00 L11.40,-0.44 L11.70,-0.87 L12.00,-1.29" stroke="#fff" stroke-width="1.6" fill="none"/>
<path d="M-8.7,-1.0 V1.0" stroke="#fff" stroke-width="0.7" opacity="0.7"/>
<path d="M-2.1,-1.0 V1.0" stroke="#fff" stroke-width="0.7" opacity="0.7"/>
<path d="M4.5,-1.0 V1.0" stroke="#fff" stroke-width="0.7" opacity="0.7"/>
</g>
<path d="M535.6,264.6 L539.4,262.20000000000005 L539.2,266.8 Z M558.6,277.8 L554.8,275.40000000000003 L555.0,280.0 Z" fill="#fff"/>
<rect x="544.5" y="252.5" width="7" height="7" fill="#fff" stroke="#767676" stroke-width="1"/>
<path d="M549.3,253.4 L547.2,256.0 L549.2,256.0 L547.1,258.7" fill="none" stroke="#000" stroke-width="1.25" stroke-linejoin="miter" stroke-miterlimit="3"/>
<g><rect x="526.9" y="268.0" width="5.2" height="7.5" fill="#8e8e8e"/><rect x="527.9" y="269.0" width="3.2" height="5.5" fill="#c2c2c2"/><path d="M527.9,270.8 h3.2 M527.9,272.6 h3.2" stroke="#7a7a7a" stroke-width="0.7"/></g>
<path d="M562.4,267.8 h3.0 l2,2.75 v2 l-2,2.75 h-3.0 Z" fill="#c3e46a" stroke="#a6c94e" stroke-width="0.4"/>
<circle cx="597" cy="271.8" r="12.7" fill="#1b5f9b"/>
<path d="M594.3,266.0 H599.7 V269.40000000000003 L604.6,277.40000000000003 Q606.2,281.2 602.4,281.2 H591.6 Q587.8,281.2 589.4,277.40000000000003 L594.3,269.40000000000003 Z" fill="#fff"/>
<path d="M591.4,276.40000000000003 Q597,281.40000000000003 602.6,276.40000000000003" stroke="#1b5f9b" stroke-width="2.1" fill="none" stroke-linecap="round"/>
<circle cx="595.8" cy="273.8" r="1.4" fill="none" stroke="#1b5f9b" stroke-width="0.8"/>
<circle cx="598.6" cy="275.40000000000003" r="0.8" fill="#1b5f9b"/>
<circle cx="595.6" cy="261.6" r="1.0" fill="#fff"/>
<circle cx="598.1" cy="263.8" r="1.5" fill="#fff"/>
<circle cx="588" cy="255" r="3.3" fill="#000"/>
<circle cx="588" cy="254.85" r="2.0" fill="#fff"/>
<path d="M586.7,255.6 A1.35,1.35 0 0 1 589.3,255.6 Z" fill="#6fa4e6"/>
<path d="M588.1,253.9 L589.3,255.6 H588.1 Z" fill="#f0b050"/>
<circle cx="588" cy="255.1" r="0.55" fill="#b02020"/>
<rect x="600.5" y="251.5" width="7" height="7" fill="#fff" stroke="#767676" stroke-width="1"/>
<path d="M605.3,252.4 L603.2,255.0 L605.2,255.0 L603.1,257.7" fill="none" stroke="#000" stroke-width="1.25" stroke-linejoin="miter" stroke-miterlimit="3"/>
<path d="M576.9,268.1 h5.0 v7.5 h-5.0 v-1.6 l1.4,-1.2 v-2.1 l-1.4,-1.2 Z" fill="#c3e46a" stroke="#a6c94e" stroke-width="0.4"/>
<path d="M611.3,268.1 h3.0 l2,2.75 v2 l-2,2.75 h-3.0 Z" fill="#c3e46a" stroke="#a6c94e" stroke-width="0.4"/>
<circle cx="654.7" cy="272" r="12.7" fill="#d92f2f"/>
<rect x="649.2" y="265.7" width="11" height="12.4" fill="#fff"/>
<path d="M651.2,267.2 h7.5 v9 M651.2,267.2 v9.5" stroke="#d92f2f" stroke-width="0.5" fill="none"/>
<path d="M653.7,269.9 h3.5 M653.7,272.2 h3.5 M653.7,274.2 h2" stroke="#d92f2f" stroke-width="0.6"/>
<circle cx="657.2" cy="275.7" r="1.4" fill="none" stroke="#d92f2f" stroke-width="0.6"/>
<circle cx="645.7" cy="255.1" r="3.3" fill="#000"/>
<circle cx="645.7" cy="254.95" r="2.0" fill="#fff"/>
<path d="M644.4000000000001,255.7 A1.35,1.35 0 0 1 647.0,255.7 Z" fill="#6fa4e6"/>
<path d="M645.8000000000001,254.0 L647.0,255.7 H645.8000000000001 Z" fill="#f0b050"/>
<circle cx="645.7" cy="255.2" r="0.55" fill="#b02020"/>
<rect x="659.5" y="251.5" width="7" height="7" fill="#fff" stroke="#767676" stroke-width="1"/>
<path d="M664.3,252.4 L662.2,255.0 L664.2,255.0 L662.1,257.7" fill="none" stroke="#000" stroke-width="1.25" stroke-linejoin="miter" stroke-miterlimit="3"/>
<path d="M634.1,268.1 h5.0 v7.5 h-5.0 v-1.6 l1.4,-1.2 v-2.1 l-1.4,-1.2 Z" fill="#c3e46a" stroke="#a6c94e" stroke-width="0.4"/>
<rect x="576.5" y="290.5" width="68" height="77" fill="#fff" stroke="#6f6f6f" stroke-width="1"/>
<text x="577.5" y="299.6" font-size="8.3" fill="#4e4843" stroke="#4e4843" stroke-width="0.12" textLength="49.2" lengthAdjust="spacingAndGlyphs">Section 1 = if</text>
<text x="577.5" y="309.85" font-size="8.3" fill="#4e4843" stroke="#4e4843" stroke-width="0.12" textLength="31.4" lengthAdjust="spacingAndGlyphs">contains</text>
<text x="577.5" y="320.1" font-size="8.3" fill="#4e4843" stroke="#4e4843" stroke-width="0.12" textLength="59.6" lengthAdjust="spacingAndGlyphs">([Field1],'blank')</text>
<text x="577.5" y="330.35" font-size="8.3" fill="#4e4843" stroke="#4e4843" stroke-width="0.12" textLength="46" lengthAdjust="spacingAndGlyphs">THEN 'Blank'</text>
<text x="577.5" y="340.6" font-size="8.3" fill="#4e4843" stroke="#4e4843" stroke-width="0.12" textLength="57.1" lengthAdjust="spacingAndGlyphs">ELSE [Section 1]</text>
<text x="577.5" y="350.85" font-size="8.3" fill="#4e4843" stroke="#4e4843" stroke-width="0.12" textLength="19" lengthAdjust="spacingAndGlyphs">endif</text>
<text x="577.5" y="361.1" font-size="8.3" fill="#4e4843" stroke="#4e4843" stroke-width="0.12" textLength="13.9" lengthAdjust="spacingAndGlyphs">Se...</text>
<rect x="405.9" y="36.0" width="13.3" height="11.0" fill="#fff"/>
<text x="408.0" y="43.4" font-size="8.0" fill="#000" stroke="#000" stroke-width="0.15" textLength="7.6" lengthAdjust="spacingAndGlyphs">#1</text>
<rect x="393.0" y="59.4" width="13.3" height="11.0" fill="#fff"/>
<text x="395.1" y="66.8" font-size="8.0" fill="#000" stroke="#000" stroke-width="0.15" textLength="8.3" lengthAdjust="spacingAndGlyphs">#2</text>
<rect x="410.9" y="67.6" width="13.3" height="11.0" fill="#fff"/>
<text x="413.0" y="75.0" font-size="8.0" fill="#000" stroke="#000" stroke-width="0.15" textLength="8.3" lengthAdjust="spacingAndGlyphs">#3</text>
<rect x="402.9" y="125.4" width="13.3" height="11.0" fill="#fff"/>
<text x="405.0" y="132.8" font-size="8.0" fill="#000" stroke="#000" stroke-width="0.15" textLength="7.6" lengthAdjust="spacingAndGlyphs">#1</text>
<rect x="337.1" y="144.8" width="13.3" height="11.0" fill="#fff"/>
<text x="339.20000000000005" y="152.20000000000002" font-size="8.0" fill="#000" stroke="#000" stroke-width="0.15" textLength="8.3" lengthAdjust="spacingAndGlyphs">#2</text>
<rect x="405.5" y="164.6" width="13.3" height="11.0" fill="#fff"/>
<text x="407.6" y="172.0" font-size="8.0" fill="#000" stroke="#000" stroke-width="0.15" textLength="8.3" lengthAdjust="spacingAndGlyphs">#3</text>
<rect x="405.5" y="226.8" width="13.3" height="11.0" fill="#fff"/>
<text x="407.6" y="234.20000000000002" font-size="8.0" fill="#000" stroke="#000" stroke-width="0.15" textLength="7.6" lengthAdjust="spacingAndGlyphs">#1</text>
<rect x="328.5" y="245.4" width="13.3" height="11.0" fill="#fff"/>
<text x="330.6" y="252.8" font-size="8.0" fill="#000" stroke="#000" stroke-width="0.15" textLength="8.3" lengthAdjust="spacingAndGlyphs">#2</text>
<rect x="402.9" y="265.6" width="13.3" height="11.0" fill="#fff"/>
<text x="405.0" y="273.0" font-size="8.0" fill="#000" stroke="#000" stroke-width="0.15" textLength="8.3" lengthAdjust="spacingAndGlyphs">#3</text>
<rect x="402.9" y="326.8" width="13.3" height="11.0" fill="#fff"/>
<text x="405.0" y="334.2" font-size="8.0" fill="#000" stroke="#000" stroke-width="0.15" textLength="7.6" lengthAdjust="spacingAndGlyphs">#1</text>
<rect x="341.0" y="348.2" width="13.3" height="11.0" fill="#fff"/>
<text x="343.1" y="355.59999999999997" font-size="8.0" fill="#000" stroke="#000" stroke-width="0.15" textLength="8.3" lengthAdjust="spacingAndGlyphs">#2</text>
<rect x="402.9" y="373.6" width="13.3" height="11.0" fill="#fff"/>
<text x="405.0" y="381.0" font-size="8.0" fill="#000" stroke="#000" stroke-width="0.15" textLength="8.3" lengthAdjust="spacingAndGlyphs">#3</text>
<rect x="405.9" y="418.4" width="13.3" height="11.0" fill="#fff"/>
<text x="408.0" y="425.79999999999995" font-size="8.0" fill="#000" stroke="#000" stroke-width="0.15" textLength="7.6" lengthAdjust="spacingAndGlyphs">#1</text>
<rect x="333.9" y="437.6" width="13.3" height="11.0" fill="#fff"/>
<text x="336.0" y="445.0" font-size="8.0" fill="#000" stroke="#000" stroke-width="0.15" textLength="8.3" lengthAdjust="spacingAndGlyphs">#2</text>
<rect x="403.2" y="457.4" width="13.3" height="11.0" fill="#fff"/>
<text x="405.3" y="464.79999999999995" font-size="8.0" fill="#000" stroke="#000" stroke-width="0.15" textLength="8.3" lengthAdjust="spacingAndGlyphs">#3</text>
<rect x="406.0" y="518.6" width="13.3" height="11.0" fill="#fff"/>
<text x="408.1" y="526.0" font-size="8.0" fill="#000" stroke="#000" stroke-width="0.15" textLength="7.6" lengthAdjust="spacingAndGlyphs">#1</text>
<rect x="333.9" y="537.6" width="13.3" height="11.0" fill="#fff"/>
<text x="336.0" y="545.0" font-size="8.0" fill="#000" stroke="#000" stroke-width="0.15" textLength="8.3" lengthAdjust="spacingAndGlyphs">#2</text>
<rect x="395.6" y="542.6" width="13.3" height="11.0" fill="#fff"/>
<text x="397.70000000000005" y="550.0" font-size="8.0" fill="#000" stroke="#000" stroke-width="0.15" textLength="8.3" lengthAdjust="spacingAndGlyphs">#3</text>
<rect x="500.9" y="79.2" width="13.3" height="11.0" fill="#fff"/>
<text x="503.0" y="86.60000000000001" font-size="8.0" fill="#000" stroke="#000" stroke-width="0.15" textLength="7.6" lengthAdjust="spacingAndGlyphs">#1</text>
<rect x="496.2" y="141.7" width="13.3" height="11.0" fill="#fff"/>
<text x="498.3" y="149.1" font-size="8.0" fill="#000" stroke="#000" stroke-width="0.15" textLength="8.3" lengthAdjust="spacingAndGlyphs">#2</text>
<rect x="495.9" y="266" width="11.5" height="17" fill="#fff"/>
<text x="497.6" y="272.2" font-size="7.8" fill="#000" stroke="#000" stroke-width="0.12" textLength="8.2" lengthAdjust="spacingAndGlyphs">#3</text>
<text x="497.6" y="279.4" font-size="7.8" fill="#000" stroke="#000" stroke-width="0.12" textLength="8.2" lengthAdjust="spacingAndGlyphs">#4</text>
<rect x="495.7" y="430.8" width="13.3" height="11.0" fill="#fff"/>
<text x="497.8" y="438.2" font-size="8.0" fill="#000" stroke="#000" stroke-width="0.15" textLength="8.3" lengthAdjust="spacingAndGlyphs">#5</text>
<rect x="500.9" y="524.6" width="13.3" height="11.0" fill="#fff"/>
<text x="503.0" y="532.0" font-size="8.0" fill="#000" stroke="#000" stroke-width="0.15" textLength="8.3" lengthAdjust="spacingAndGlyphs">#6</text>
</svg>
</body></html>
